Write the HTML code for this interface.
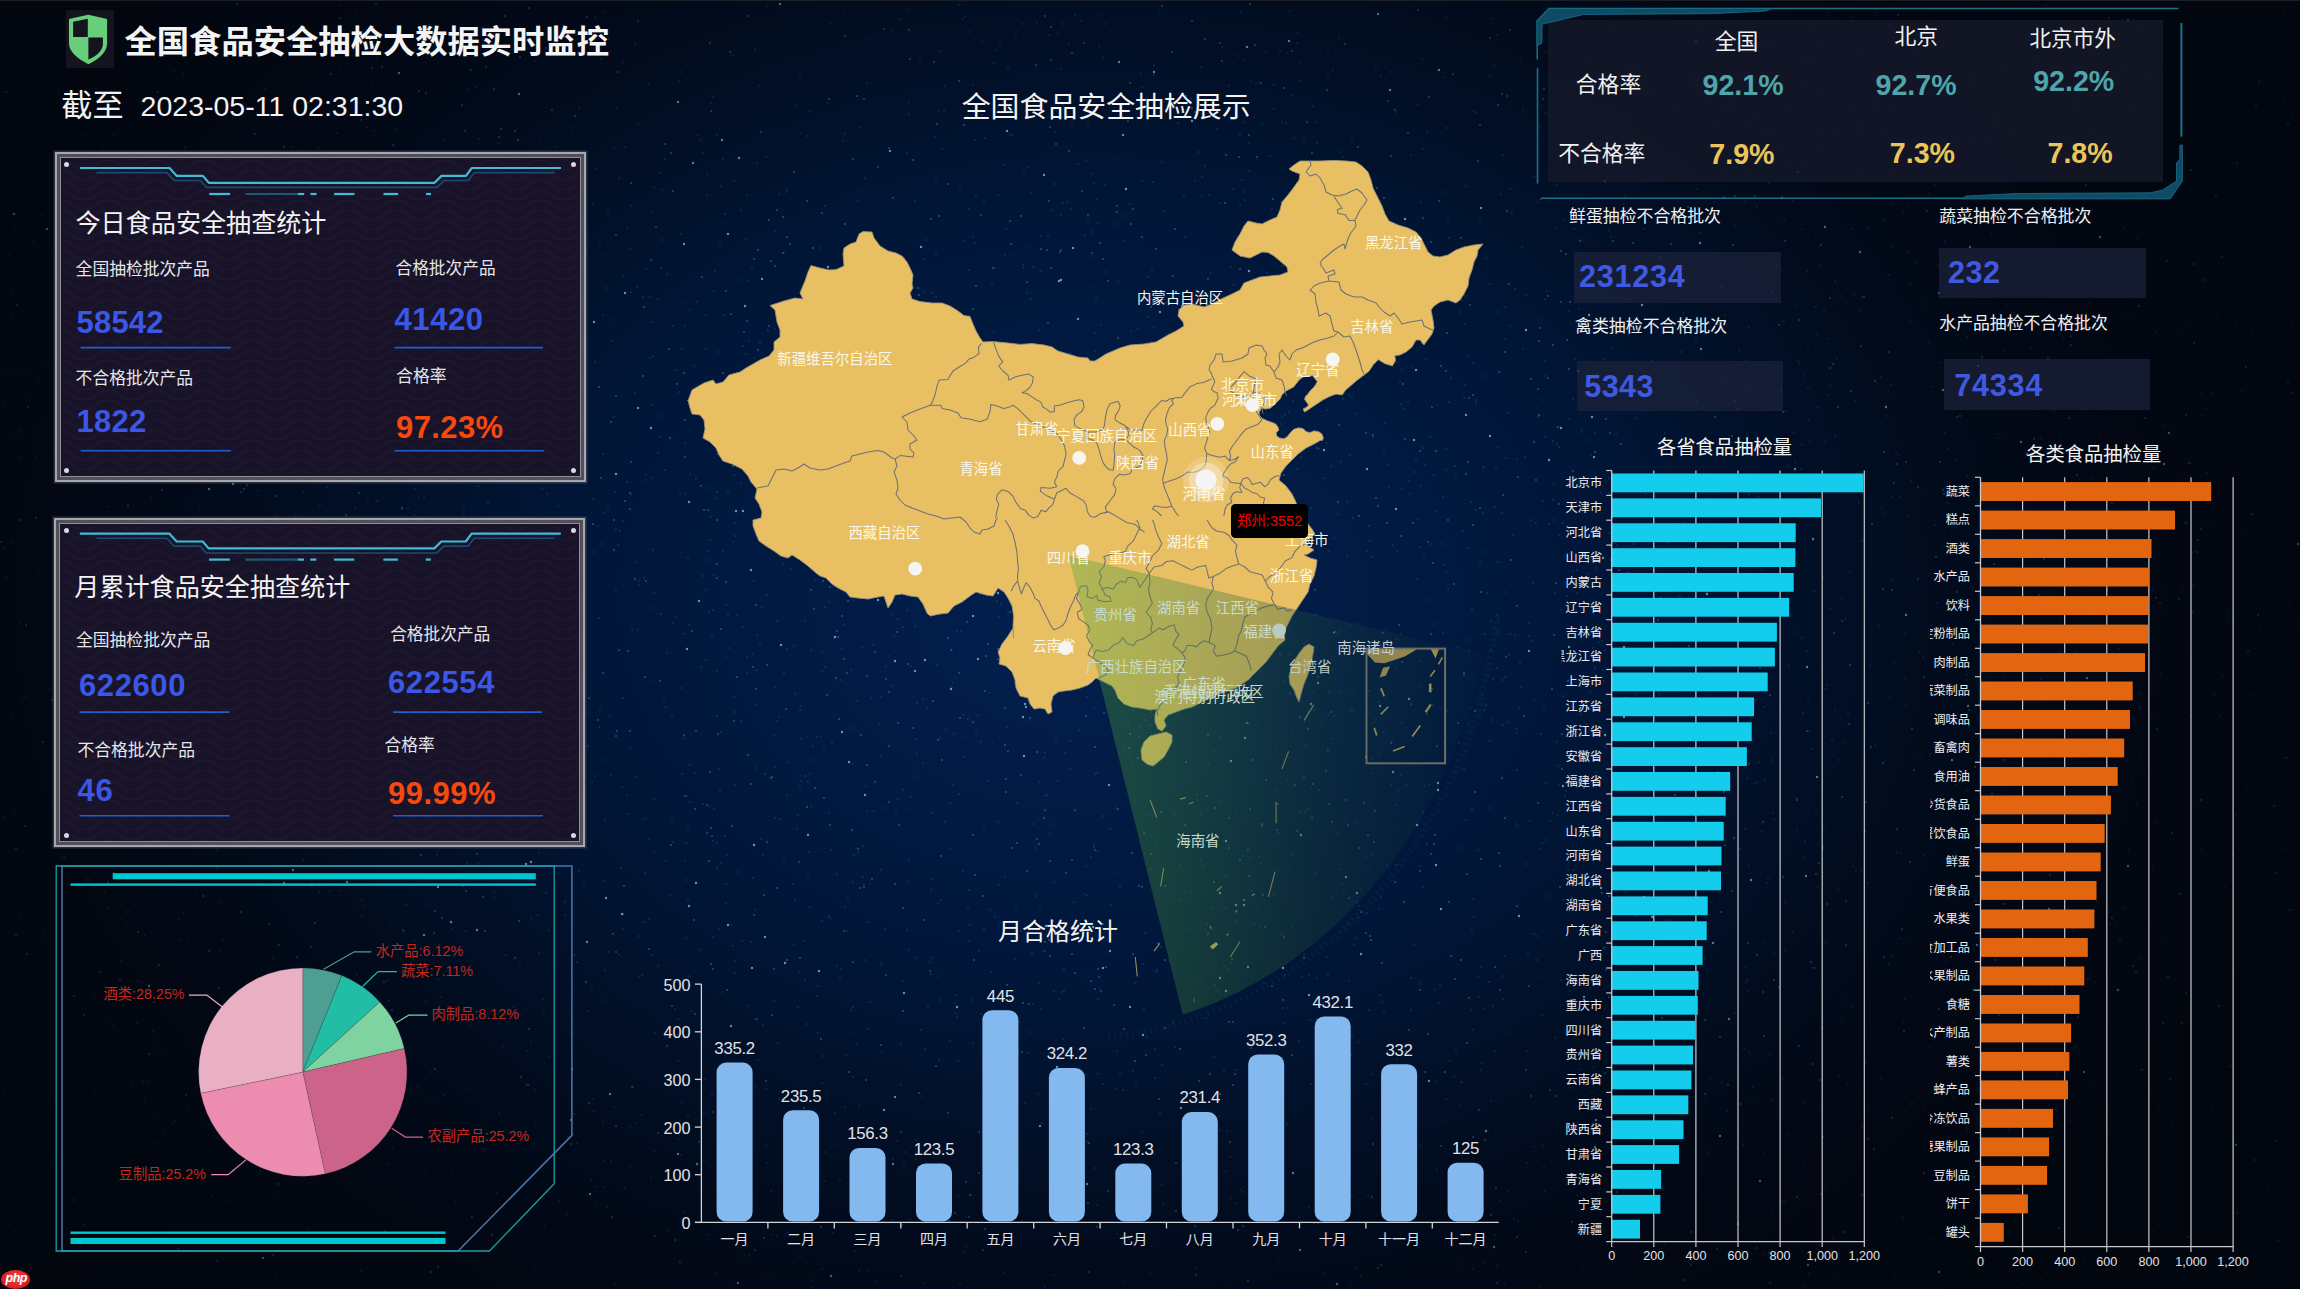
<!DOCTYPE html><html lang="zh-CN"><head><meta charset="utf-8"><title>全国食品安全抽检大数据实时监控</title><style>
html,body{margin:0;padding:0;background:#02060f;}
body{width:2300px;height:1289px;overflow:hidden;position:relative;font-family:"Liberation Sans","Noto Sans CJK SC",sans-serif;}
#bg{position:absolute;left:0;top:0;width:2300px;height:1289px;
 background:
  radial-gradient(ellipse 1250px 950px at 1090px 600px, #022050 0%, #021c46 18%, #01173a 38%, #01112b 58%, #020a1a 78%, #02060f 100%);}
.t{position:absolute;white-space:nowrap;}
svg{position:absolute;left:0;top:0;overflow:visible;}
svg text{font-family:"Liberation Sans","Noto Sans CJK SC",sans-serif;}
.panel{position:absolute;box-sizing:border-box;border:2px solid #a6a6af;background:#505059;box-shadow:0 0 0 1.5px rgba(120,120,130,.35);}
.panel .in{position:absolute;left:3px;top:3px;right:3px;bottom:3px;box-sizing:border-box;border:1.5px solid #8f8f99;background-color:#181329;}
.dot{position:absolute;width:5px;height:5px;border-radius:50%;background:#d8d8de;}
.cbox{position:absolute;background:rgba(28,34,58,.72);}
</style></head><body>
<div id="bg"></div>
<svg width="2300" height="1289" viewBox="0 0 2300 1289">
<path d="M258 522h0M859 192h0M1596 886h0M8 912h0M1300 62h0M118 1080h0M1415 472h0M777 621h0M141 983h0M1534 177h0M121 961h0M1612 348h0M818 1033h0M1461 848h0M1356 938h0M940 362h0M1151 511h0M756 705h0M685 326h0M688 558h0M1206 931h0M2033 970h0M1277 791h0M770 529h0M1768 42h0M1627 299h0M2115 923h0M1315 873h0M194 627h0M1220 324h0M1033 267h0M1421 202h0M1773 1211h0M427 798h0M1647 576h0M822 671h0M553 694h0M2181 480h0M165 173h0M682 1102h0M1045 753h0M466 596h0M427 656h0M603 256h0M916 1159h0M163 384h0M1724 331h0M685 494h0M1204 1126h0M1953 644h0M1300 81h0M1210 1221h0M1602 641h0M1867 228h0M1061 375h0M1258 407h0M333 575h0M1388 465h0M1256 84h0M1240 503h0M377 501h0M998 822h0M1471 1010h0M631 206h0M1343 157h0M579 654h0M846 290h0M2264 420h0M1772 1100h0M1012 517h0M1387 351h0M566 1215h0M1061 567h0M956 995h0M1795 462h0M1688 690h0M1127 449h0M1510 326h0M834 638h0M1227 1131h0M1903 1217h0M1545 361h0M1425 786h0M1045 1287h0M1773 813h0M1333 897h0M1998 434h0M1210 568h0M992 533h0M1166 303h0M1119 637h0M688 1116h0M1569 419h0M442 49h0M1274 895h0M1461 1082h0M1434 624h0M1546 783h0M808 736h0M1014 595h0M300 1239h0M2229 621h0M1062 992h0M662 190h0M1129 1239h0M2163 425h0M1367 551h0M2284 101h0M950 803h0M1350 455h0M1017 551h0M1881 1078h0M565 902h0M1641 492h0M844 625h0M932 813h0M409 382h0M1124 241h0M707 195h0M955 1013h0M690 474h0M1161 947h0M1595 433h0M1056 676h0M1176 401h0M623 62h0M594 1111h0M1554 520h0M145 1099h0M481 885h0M1143 393h0M1596 675h0M1064 497h0M717 716h0M1446 1120h0M816 1098h0M296 515h0M395 309h0M406 640h0M1105 185h0M1332 175h0M1282 266h0M1244 192h0M1005 1029h0M1352 693h0M531 918h0M1193 321h0M1594 1067h0M1677 707h0M265 89h0M1305 722h0M2130 1026h0M499 304h0M1333 670h0M1850 572h0M1031 502h0M1516 824h0M1394 1089h0M119 303h0M905 1152h0M1088 219h0M890 355h0M1993 581h0M963 871h0M1050 834h0M1877 13h0M1260 926h0M2252 333h0M1981 726h0M1065 753h0M1176 845h0M1120 887h0M374 131h0M422 518h0M767 6h0M208 1125h0M1728 710h0M357 798h0M2039 805h0M1962 216h0M824 342h0M1706 1099h0M1380 995h0M1420 547h0M412 468h0M1107 504h0M533 524h0M1106 573h0M1252 546h0M989 693h0M2190 306h0M873 645h0M1967 675h0M573 525h0M475 463h0M1261 864h0M1397 551h0M2123 776h0M1351 710h0M1027 293h0M168 710h0M422 614h0M1103 1084h0M127 160h0M1318 229h0M1110 829h0M2194 806h0M898 619h0M717 492h0M1780 562h0M1025 1103h0M541 319h0M581 442h0M1563 900h0M594 552h0M414 941h0M1130 758h0M1892 109h0M455 1202h0M1004 1273h0M1465 324h0M166 642h0M1418 519h0M1541 734h0M497 1193h0M856 784h0M408 508h0M1347 502h0M1889 964h0M793 884h0M1091 256h0M1540 849h0M1181 318h0M1402 489h0M719 769h0M198 792h0M387 980h0M2029 570h0M620 531h0M717 1273h0M1058 522h0M1573 571h0M1035 462h0M2201 1266h0M1758 491h0M988 781h0M829 813h0M730 461h0M589 712h0M1195 181h0M1224 427h0M213 646h0M542 211h0M1782 1201h0M851 1032h0M1572 1059h0M825 1152h0M1725 816h0M400 265h0M2000 438h0M773 354h0M778 1043h0M1476 403h0M1169 960h0M1299 305h0M2276 568h0M1478 850h0M1379 754h0M1827 685h0M1331 739h0M607 1207h0M1299 1041h0M1010 543h0M1626 1127h0M1094 847h0M1076 480h0M1135 983h0M835 1113h0M2114 272h0M1490 76h0M1292 855h0M2153 869h0M808 476h0M1091 938h0M900 19h0M2001 66h0M2260 81h0M143 1081h0M1814 591h0M2072 760h0M768 1276h0M94 998h0M303 860h0M1098 1074h0M1046 635h0M1456 475h0M222 227h0M221 627h0M1329 692h0M1205 838h0M1498 619h0M303 407h0M948 1244h0M986 459h0M1616 776h0M1258 909h0M1789 1134h0M470 1026h0M1084 894h0M944 111h0M279 446h0M86 135h0M76 1252h0M865 960h0M1029 478h0M1603 122h0M2274 926h0M1338 833h0M757 447h0M1245 200h0M1285 299h0M1815 307h0M1172 705h0M365 906h0M933 379h0M900 585h0M1334 716h0M1566 791h0M1788 567h0M1372 758h0M1492 720h0M1930 1047h0M521 619h0M612 341h0M623 276h0M1039 482h0M1291 351h0M1937 634h0M630 1126h0M1964 1094h0M1534 700h0M756 768h0M860 127h0M1246 669h0M1000 736h0M949 595h0M27 400h0M554 456h0M1091 288h0M1134 420h0M337 1248h0M865 178h0M804 1232h0M73 445h0M1967 1130h0M1431 277h0M1276 1239h0M366 984h0M292 536h0M1341 462h0M1033 627h0M1703 24h0M1191 99h0M1763 1255h0M1152 1246h0M706 660h0M387 813h0M1508 722h0M1809 731h0M1908 252h0M566 346h0M1274 347h0M846 578h0M26 697h0M398 1102h0M1816 813h0M149 1202h0M1843 1000h0M112 1139h0M265 1126h0M1306 904h0M416 795h0M1905 678h0M672 821h0M1956 1035h0M885 929h0M1534 1147h0M1147 815h0M1995 912h0M1241 1190h0M1186 356h0M736 912h0M432 1102h0M1396 1190h0M1894 662h0M680 493h0M252 672h0M121 705h0M1182 459h0M1575 359h0M910 479h0M1311 787h0M1202 196h0M627 228h0M734 697h0M1789 666h0M854 397h0M600 245h0M1299 1217h0M1468 356h0M584 428h0M1427 132h0M806 493h0M20 622h0M2125 387h0M1359 214h0M584 883h0M1429 785h0M801 133h0M982 42h0M1805 1162h0M705 1079h0M1762 570h0M2073 930h0M1005 255h0M609 39h0M616 590h0M109 989h0M2053 198h0M1299 896h0M1512 213h0M432 401h0M960 187h0M1221 802h0M1959 896h0M1317 978h0M1793 932h0M747 657h0M903 627h0M474 736h0M567 218h0M1334 1109h0M59 1101h0M1892 580h0M1644 229h0M178 384h0M476 87h0M821 331h0M933 445h0M1445 1152h0M551 585h0M1156 972h0M278 379h0M925 469h0M243 748h0M897 527h0M2133 781h0M1192 427h0M1566 936h0M99 269h0M1786 411h0M402 509h0M474 364h0M1774 819h0M579 871h0M1197 795h0M397 759h0M387 581h0M1540 126h0M1860 171h0M1256 725h0M1454 1077h0M953 508h0M1253 1098h0M1236 1203h0M660 173h0M829 282h0M2265 1272h0M1581 432h0M1825 442h0M1826 689h0M288 472h0M686 938h0M449 393h0M1260 438h0M1204 630h0M1431 544h0M1807 86h0M1292 926h0M454 395h0M117 1145h0M36 458h0M798 815h0M1145 720h0M1142 181h0M853 1077h0M211 649h0M1305 812h0M181 445h0M665 470h0M1967 337h0M1648 579h0M893 1159h0M259 260h0M1016 907h0M1655 728h0M1411 155h0M959 931h0M1372 265h0M113 1026h0M1174 531h0M741 448h0M331 349h0M341 69h0M1141 74h0M722 1101h0M927 708h0M811 806h0M734 475h0M167 356h0M2156 332h0M1546 840h0M1745 556h0M1094 845h0M1172 491h0M1596 328h0M1033 1004h0M1980 226h0M462 787h0M1918 51h0M851 728h0M1565 796h0M938 903h0M1785 1202h0M617 108h0M1440 771h0M469 1088h0M954 734h0M661 416h0M566 819h0M99 753h0M874 811h0M1117 872h0M721 186h0M98 375h0M1081 1140h0M431 809h0M291 640h0M1189 706h0M1426 359h0M1687 299h0M1609 533h0M653 550h0M489 218h0M619 954h0M973 85h0M467 89h0M600 710h0M915 326h0M2004 351h0M701 667h0M1220 203h0M1042 939h0M915 626h0M636 562h0M1033 432h0M577 1143h0M1672 702h0M1802 229h0M939 495h0M1130 204h0M1745 829h0M886 330h0M1497 668h0M127 453h0M714 411h0M942 149h0M1606 694h0M1054 824h0M1129 723h0M1417 579h0M922 1096h0M1203 866h0M1612 1011h0M675 1009h0M1223 600h0M1028 1053h0M546 893h0M1315 431h0M1206 1018h0M654 593h0M1368 305h0M1571 81h0M842 649h0M1251 82h0M1410 494h0M986 1065h0M1366 858h0M1994 1228h0M1716 809h0M6 577h0M1838 890h0M1217 110h0M1042 1123h0M2061 608h0M1563 696h0M1621 848h0M1024 392h0M1047 795h0M1197 1268h0M602 544h0M431 447h0M1319 449h0M134 1246h0M1072 527h0M1070 769h0M1458 1264h0M1147 541h0M625 1188h0M1596 125h0M308 1010h0M1259 82h0M1767 883h0M1184 196h0M1758 782h0M1541 106h0M1956 785h0M545 450h0M1420 661h0M682 774h0M153 1031h0M1023 268h0M2281 26h0M1169 439h0M1277 303h0M709 1235h0M2041 497h0M603 1122h0M904 258h0M1506 458h0M1604 681h0M639 936h0M1954 1097h0M852 260h0M1538 417h0M863 877h0M1870 666h0M431 345h0M731 925h0M1030 1032h0M380 1049h0M1570 991h0M1970 404h0M872 576h0M1868 1107h0M574 1114h0M780 819h0M351 807h0M1167 433h0M1533 1280h0M1824 830h0M709 612h0M867 83h0M1328 75h0M1023 24h0M1692 711h0M1250 858h0M939 1060h0M1081 21h0M610 716h0M1352 397h0M1139 559h0M595 17h0M1267 273h0M1474 917h0M32 637h0M217 1022h0M1591 455h0M1133 375h0M1353 710h0M2278 472h0M676 370h0M1451 378h0M2020 1250h0M1868 883h0M277 515h0M1508 1191h0M1419 244h0M1682 286h0M2084 1261h0M1015 959h0M1473 1030h0M531 1042h0M253 417h0M1421 486h0M2286 849h0M961 1h0M636 1123h0M940 738h0M564 192h0M1690 728h0M173 1123h0M854 252h0M871 698h0M1212 585h0M1896 453h0M1589 440h0M720 791h0M2096 327h0M868 1029h0M1905 634h0M1106 416h0M1701 582h0M1817 134h0M1311 508h0M1041 508h0M557 147h0M900 598h0M1099 16h0M1153 616h0M678 1061h0M1469 651h0M1254 924h0M1079 560h0M1175 1047h0M367 72h0M538 785h0M1929 342h0M2085 796h0M67 785h0M879 724h0M520 966h0M1770 1054h0M1437 405h0M833 1233h0M854 600h0M714 291h0M1263 362h0M810 774h0M1802 445h0M639 585h0M2005 677h0M299 151h0M536 1123h0M853 882h0M1140 727h0M649 839h0M472 865h0M42 114h0M864 413h0M1206 635h0M1852 107h0M97 302h0M956 525h0M2026 1022h0M316 268h0M123 483h0M716 498h0M1884 220h0M801 1162h0M330 615h0M1219 1116h0M1234 285h0M411 427h0M1920 755h0M2188 463h0M813 746h0M870 884h0M1667 920h0M1839 760h0M1700 409h0M21 457h0M1573 399h0M1022 1221h0M1595 1005h0M252 168h0M808 875h0M1550 821h0M1448 589h0M2095 982h0M2099 450h0M168 821h0M1289 412h0M685 861h0M380 528h0M1856 871h0M1250 1045h0M183 792h0M1204 846h0M253 596h0M2072 58h0M225 447h0M397 335h0M2030 1066h0M318 1085h0M1489 982h0M715 271h0M1277 514h0M1515 635h0M1949 897h0M1931 1239h0M538 915h0M953 682h0M1678 623h0M1996 1085h0M1316 294h0M638 124h0M1632 684h0M1059 999h0M1785 164h0M1008 614h0M139 591h0M1058 34h0M1368 226h0M1526 295h0M1911 481h0M614 417h0M703 576h0M1749 866h0M583 415h0M1919 652h0M539 853h0M592 782h0M460 207h0M1616 152h0M1785 902h0M2230 1245h0M1360 568h0M681 72h0M1339 692h0M1618 116h0M983 1034h0M1599 642h0M573 1134h0M597 1205h0M870 1002h0M1875 745h0M1753 1087h0M1005 877h0M2242 752h0M1658 905h0M735 973h0M1939 747h0M1154 503h0M1925 304h0M743 627h0M690 802h0M1238 370h0M1463 1236h0M1379 702h0M13 293h0M1165 455h0M1784 321h0M1313 106h0M1852 1006h0M618 545h0M1085 235h0M232 670h0M817 358h0M365 757h0M794 945h0M320 505h0M2140 757h0M1476 510h0M1665 433h0M1777 148h0M999 617h0M1582 240h0M1472 930h0M1616 434h0M615 1284h0M802 1224h0M1648 544h0M440 271h0M549 930h0M873 569h0M639 581h0M1301 457h0M2096 1088h0M1591 59h0M1613 708h0M381 1071h0M817 996h0M1301 517h0M2137 805h0M1063 203h0M1406 728h0M190 504h0M604 1161h0M445 426h0M1480 715h0M1788 466h0M1559 146h0M1916 262h0M1510 189h0M968 719h0M1357 902h0M984 202h0M755 910h0M159 373h0M1447 711h0M1268 435h0M819 503h0M818 986h0M2226 170h0M1807 271h0M1496 68h0M2208 1147h0M89 780h0M1365 784h0M1261 671h0M1748 991h0M53 801h0M368 498h0M588 1011h0M1505 307h0M845 548h0M1854 294h0M1639 904h0M343 44h0M912 504h0M1423 887h0M393 169h0M956 678h0M822 1083h0M344 1044h0M1230 513h0M1367 712h0M2044 268h0M8 373h0M1498 447h0M775 498h0M831 850h0M5 1284h0M235 596h0M362 916h0M1179 547h0M1101 490h0M963 736h0M1292 95h0M1744 1049h0M241 800h0M864 885h0M1727 1111h0M137 806h0M1901 853h0M1169 475h0M1532 641h0M558 506h0M1304 141h0M1582 430h0M2090 1130h0M1917 432h0M1556 228h0M2226 167h0M773 1235h0M805 980h0M635 393h0M1259 857h0M755 49h0M2090 303h0M957 631h0M1837 1275h0M796 106h0M1443 633h0M1974 944h0M547 494h0M258 491h0M1392 742h0M1291 322h0M1481 967h0M174 71h0M1758 497h0M424 497h0M942 51h0M1148 627h0M1910 284h0M1391 72h0M1045 951h0M1282 935h0M1746 723h0M573 1033h0M669 1231h0M2236 815h0M542 489h0M2172 1121h0M2141 695h0M828 103h0M768 330h0M1744 64h0M1609 230h0M2263 1230h0M1540 39h0M1201 474h0M1655 756h0M643 297h0M148 289h0M1264 541h0M324 261h0M1300 431h0M1818 407h0M751 942h0M730 1283h0M2101 435h0M1228 469h0M973 237h0M1569 911h0M1998 120h0M1162 355h0M243 645h0M2048 266h0M1478 977h0M2149 1093h0M72 564h0M329 710h0M725 1174h0M1616 396h0M917 316h0M2010 1221h0M361 1271h0M1319 1100h0M1181 900h0M1244 1192h0M317 585h0M1623 266h0M1185 892h0M1647 258h0M1038 481h0M1058 781h0M990 995h0M1546 113h0M219 902h0M2109 912h0M760 428h0M1359 906h0M661 614h0M998 195h0M462 665h0M1545 1191h0M392 923h0M357 975h0M1574 499h0M1948 525h0M1095 774h0M376 1114h0M643 819h0M1631 802h0M439 945h0M1663 890h0M1992 856h0M721 387h0M1162 162h0M1692 299h0M651 608h0M1231 1198h0M2144 670h0M1569 1009h0M1208 100h0M1402 370h0M372 83h0M632 629h0M2228 776h0M916 1140h0M2285 447h0M723 224h0M1094 491h0M2085 666h0M2278 449h0M661 268h0M1017 623h0M1738 914h0M1280 628h0M1443 497h0M1450 1061h0M733 946h0M1641 377h0M1962 373h0M318 811h0M919 588h0M795 694h0M1828 395h0M337 133h0M713 841h0M982 115h0M2207 503h0M2201 415h0M969 209h0M1350 626h0M515 846h0M95 1093h0M1302 977h0M829 916h0M788 359h0M1075 15h0M2069 681h0M840 978h0M1617 823h0M247 592h0M804 941h0M2243 391h0M1226 876h0M1135 1205h0M438 736h0M915 201h0M233 209h0M1633 544h0M1464 1218h0M972 1000h0M1092 174h0M401 105h0M1412 368h0M1190 1155h0M60 856h0M597 1187h0M1342 1122h0M1369 1010h0M160 1237h0M1352 1036h0M1735 226h0M1103 365h0M2061 621h0M1580 827h0M1376 276h0M1888 392h0M1223 408h0M1765 443h0M969 270h0M278 690h0M2023 1284h0M1746 361h0M1398 790h0M670 895h0M2150 673h0M1945 402h0M731 463h0M673 842h0M4 405h0M2155 823h0M1636 694h0M1593 648h0M313 413h0M1252 891h0M2106 1160h0M51 1167h0M1188 648h0M484 1150h0M2292 113h0M1876 97h0M1732 728h0M1892 956h0M2201 394h0M1837 359h0M2234 619h0M755 1086h0M682 349h0M950 849h0M46 472h0M1197 116h0M2121 69h0M253 586h0M1516 729h0M2064 922h0M276 469h0M1691 938h0M2079 808h0M822 1269h0M1443 192h0M1087 697h0M340 25h0M717 454h0M786 192h0M945 86h0M140 204h0M1447 128h0M1192 351h0M1264 571h0M1484 467h0M1547 291h0M215 1073h0M1460 1106h0M683 304h0M1498 632h0M298 230h0M1185 307h0M1443 77h0M481 376h0M614 148h0M945 442h0M610 320h0M229 761h0M2032 925h0M1835 281h0M1088 123h0M2149 77h0M1155 1078h0M1248 378h0M438 979h0M1041 236h0M344 673h0M944 465h0M1803 713h0M1514 1219h0M697 1280h0M2009 1129h0M1496 1131h0M400 154h0M937 665h0M1137 1187h0M299 211h0M735 712h0M650 358h0M1933 387h0M652 405h0M107 183h0M970 925h0M868 425h0M717 843h0M2002 900h0M784 861h0M1490 741h0M2284 15h0M768 503h0M857 701h0M1034 498h0M385 637h0M604 881h0M340 627h0M1958 335h0M4 1092h0M1401 775h0M245 804h0M561 375h0M1611 1144h0M1124 478h0M1199 589h0M1096 298h0M272 1019h0M217 850h0M1190 930h0M2061 390h0M660 437h0M1539 1287h0M1366 309h0M424 385h0M449 537h0M179 940h0M1201 861h0M1414 1199h0M133 1083h0M1887 133h0M441 997h0M343 445h0M1233 189h0M1056 739h0M1739 152h0M1955 852h0M1165 607h0M1752 227h0M1724 791h0M2064 855h0M1036 848h0M1277 354h0M411 896h0M1947 714h0M1990 690h0M1358 624h0M1007 727h0M721 732h0M1079 430h0M1660 1079h0M979 951h0M1154 1154h0M1154 493h0M1154 65h0M105 893h0M1838 296h0M642 1115h0M1521 687h0M359 37h0M177 33h0M881 756h0M907 610h0M813 760h0M409 643h0M1903 1022h0M1959 138h0M1470 708h0M586 254h0M1332 340h0M1244 122h0M251 1163h0M151 498h0M1577 570h0M2006 306h0M2001 513h0M1218 991h0M1236 1070h0M315 248h0M1480 219h0M1322 1065h0M2153 1231h0M1935 525h0M1937 776h0M42 141h0M1847 1085h0M1239 832h0M837 874h0M2167 1142h0M1043 440h0M2246 211h0M154 1118h0M1029 720h0M1037 380h0M445 1236h0M495 414h0M727 855h0M679 81h0M697 302h0M1715 320h0M877 1281h0M1153 552h0M2053 987h0M1021 931h0M385 116h0M1074 580h0M1561 980h0M282 592h0M560 452h0M652 212h0M805 621h0M1545 437h0M1198 680h0M352 263h0M108 507h0M2154 1074h0M807 136h0M1282 417h0M1297 469h0M1605 650h0M1596 772h0M1389 487h0M1440 985h0M1178 123h0M1239 333h0M1095 333h0M1606 13h0M1087 1134h0M885 808h0M1079 1235h0M2280 462h0M1586 115h0M777 721h0M222 365h0M2070 523h0M1670 1078h0M735 523h0M717 671h0M1974 950h0M820 371h0M1192 621h0M2124 228h0M850 443h0M1907 516h0M201 808h0M420 197h0M627 482h0M639 977h0M1802 61h0M1779 610h0M1807 651h0M104 345h0M985 138h0M1308 809h0M1503 999h0M858 852h0M300 380h0M2277 354h0M1490 284h0M1595 668h0M2173 1092h0M1264 901h0M1859 311h0M2208 403h0M1411 978h0M2035 550h0M2071 143h0M690 407h0M788 762h0M1678 566h0M1604 359h0M2049 890h0M506 684h0M1173 1022h0M1520 62h0M749 1255h0M2212 393h0M67 877h0M1798 632h0M325 1139h0M918 490h0M2041 679h0M1226 1280h0M387 273h0M254 1040h0M1899 455h0M859 1072h0M1039 330h0M1236 813h0M686 843h0M2223 676h0M891 304h0M540 831h0M539 953h0M1196 488h0M958 1196h0M1152 270h0M535 1090h0M1420 984h0M763 474h0M1013 256h0M746 239h0M1519 708h0M1050 389h0M1142 661h0M151 159h0M710 806h0M859 1271h0M238 828h0M1530 821h0M800 1257h0M1244 60h0M857 457h0M980 539h0M1577 593h0M1016 38h0M1466 752h0M902 402h0M1133 710h0M1341 869h0M1455 466h0M896 566h0M774 735h0M1246 766h0M367 772h0M886 666h0M2091 797h0M2268 1191h0M1319 790h0M598 526h0M1544 1167h0M1784 220h0M1740 761h0M1574 870h0M876 380h0M1739 739h0M1577 1195h0M1515 289h0M652 478h0M815 580h0M115 209h0M920 58h0M303 696h0M1771 565h0M1624 204h0M1446 719h0M577 423h0M1031 636h0M976 196h0M1224 1071h0M2275 730h0M1880 1035h0M1281 424h0M1154 75h0M1866 1032h0M1353 518h0M82 306h0M1474 111h0M1160 697h0M871 542h0M1231 963h0M892 1220h0M1837 133h0M1496 468h0M1362 264h0M960 547h0M1600 1189h0M1065 573h0M1992 843h0M1755 783h0M1823 577h0M1508 413h0M1483 513h0M653 680h0M9 254h0M823 269h0M530 695h0M1214 309h0M1367 205h0M1473 899h0M94 1154h0M197 632h0M685 443h0M956 351h0M1044 951h0M1457 1202h0M1897 852h0M1528 954h0M409 685h0M764 535h0M995 917h0M1220 1130h0M1136 1083h0M1543 501h0M917 703h0M1132 1169h0M1559 535h0M340 1015h0M1491 650h0M2198 1060h0M599 727h0M679 392h0M845 1107h0M2269 997h0M1138 390h0M1071 209h0M1588 574h0M278 619h0M81 300h0M1557 742h0M1562 160h0M1503 725h0M888 429h0M901 1085h0M1054 991h0M77 25h0M711 103h0M437 855h0M859 1106h0M2238 602h0M784 252h0M22 656h0M606 104h0M992 511h0M611 775h0M515 359h0M680 991h0M1016 547h0M1142 87h0M868 1270h0M1099 46h0M837 966h0M1131 762h0M1939 253h0M1039 983h0M1612 278h0M1831 1252h0M760 343h0M1759 380h0M631 292h0M777 1236h0M406 656h0M1574 581h0M1721 89h0M1338 514h0M1202 177h0M579 108h0M748 1006h0M1993 520h0M686 880h0M939 112h0M234 1172h0M800 75h0M276 1275h0M980 458h0M126 926h0M936 297h0M903 981h0M882 963h0M1640 1141h0M1139 737h0M1160 397h0M637 287h0M704 1161h0M966 1246h0M720 245h0M977 96h0M713 937h0M52 251h0M1016 457h0M717 135h0M1023 265h0M2152 713h0M1808 346h0M1529 623h0M1449 238h0M677 1180h0M1000 458h0M844 513h0M1510 634h0M916 739h0M1036 896h0M1582 147h0M435 716h0M775 767h0M775 818h0M1307 64h0M347 50h0M21 915h0M1304 644h0M393 268h0M1087 1142h0M1645 649h0M1318 358h0M1274 85h0M1079 684h0M1818 887h0M2215 695h0M470 388h0M1200 979h0M1472 809h0M1215 985h0M418 1086h0M931 890h0M1345 227h0M40 991h0M1156 415h0M1063 928h0M1341 152h0M1822 991h0M1905 999h0M1408 402h0M1279 833h0M505 791h0M2216 723h0M376 331h0M1810 442h0M1186 531h0M754 581h0M1555 593h0M883 434h0M1416 460h0M1308 677h0M1051 929h0M965 522h0M1557 444h0M1561 610h0M2123 908h0M1743 1145h0M667 653h0M1707 970h0M2220 716h0M1352 141h0M496 272h0M575 955h0M45 934h0M1651 165h0M11 715h0M1436 511h0M209 782h0M173 277h0M862 461h0M1582 1267h0M167 251h0M280 309h0M108 201h0M1672 649h0M997 1123h0M1229 419h0M1003 558h0M1423 149h0M821 848h0M911 797h0M712 636h0M1077 1166h0M1574 229h0M796 482h0M944 430h0M809 308h0M2155 1211h0M799 972h0M1396 112h0M1867 472h0M1592 560h0M1341 630h0M1061 215h0M1220 737h0M1191 464h0M845 566h0M395 223h0M1367 913h0M404 714h0M416 296h0M917 776h0M214 448h0M1957 752h0M1705 958h0M1138 356h0M319 892h0M427 904h0M2225 887h0M1853 866h0M1823 1022h0M330 814h0M200 509h0M1808 388h0M505 226h0M924 608h0M767 595h0M583 459h0M1285 975h0M1482 1063h0M1077 494h0M2201 850h0M1639 903h0M357 13h0M1475 1247h0M1735 1013h0M1808 487h0M718 352h0M936 254h0M817 289h0M306 303h0M1064 991h0M741 721h0M1317 143h0M593 499h0M1446 470h0M544 1064h0M1479 997h0M393 1147h0M779 717h0M747 195h0M1422 59h0M707 174h0M779 1099h0M1032 953h0M1355 1268h0M1570 106h0M946 730h0M233 746h0M1381 897h0M1753 113h0M1159 864h0M894 636h0M1391 234h0M1683 313h0M1717 872h0M1344 893h0M183 913h0M1071 592h0M2208 526h0M739 1081h0M645 873h0M2069 163h0M756 670h0M1203 336h0M5 925h0M788 463h0M260 624h0M724 315h0M501 583h0M689 625h0M646 269h0M1901 632h0M646 818h0M1793 484h0M1710 888h0M1468 548h0M1446 1099h0M1553 813h0M1397 639h0M1600 160h0M308 166h0M1086 161h0M38 382h0M1364 335h0M855 1251h0M2032 365h0M921 1030h0M2288 431h0M642 975h0M2048 939h0M1891 385h0M1903 211h0M1211 273h0M370 703h0M630 748h0M667 274h0M625 147h0M1716 124h0M2289 602h0M909 808h0M1226 908h0M1571 1168h0M605 12h0M1997 640h0M2076 1047h0M1929 194h0M1222 570h0M1097 773h0M584 193h0M645 480h0M1091 934h0M1939 363h0M1222 47h0M1118 282h0M302 547h0M2217 315h0M830 918h0M845 428h0M823 1056h0M1664 832h0M2277 939h0M441 413h0M1529 636h0M16 437h0M868 922h0M1570 1088h0M1444 565h0M1558 766h0M753 654h0M1859 503h0M535 444h0M1219 657h0M101 101h0M1063 1039h0M334 591h0M2212 1109h0M1094 183h0M1298 33h0M1588 932h0M1803 1103h0M535 622h0M1848 504h0M2193 553h0M819 568h0M1895 1277h0M2187 648h0M1615 1209h0M1041 936h0M754 358h0M1665 664h0M704 1113h0M444 1095h0M717 868h0M595 362h0M339 112h0M635 44h0M784 144h0M1411 1010h0M783 550h0M1559 447h0M688 827h0M130 424h0M2236 752h0M1138 329h0M1543 1146h0M845 134h0M203 531h0M1348 924h0M404 932h0M1427 600h0M917 754h0M389 539h0M2258 634h0M854 855h0M118 583h0M461 661h0M997 1056h0M188 715h0M927 614h0M1160 14h0M1954 1022h0M846 394h0M194 714h0M1527 1051h0M142 104h0M853 764h0M939 52h0M2247 790h0M545 193h0M1309 1207h0M1249 143h0M1991 234h0M746 354h0M748 1246h0M1112 358h0M142 787h0M1879 626h0M1749 495h0M1892 246h0M1288 870h0M471 353h0M1762 712h0M378 750h0M1342 884h0M417 442h0M2040 1120h0M1618 1264h0M99 1110h0M2137 238h0M1892 497h0M1187 776h0M188 165h0M254 171h0M787 1233h0M1853 17h0M97 477h0M1677 296h0M1418 105h0M1533 583h0M881 965h0M2041 438h0M1816 234h0M414 515h0M1523 110h0M1395 688h0M2266 844h0M1793 201h0M579 410h0M896 581h0M528 617h0M593 1099h0M1956 460h0M892 614h0M1506 592h0M703 804h0M1111 905h0M1830 609h0M1712 880h0M786 391h0M959 794h0M1164 211h0M327 487h0M1180 519h0M2174 946h0M1324 478h0M1315 615h0M1091 1109h0M1370 541h0M1220 465h0M1505 677h0M1309 975h0M2165 217h0M1819 1109h0M1587 724h0M801 343h0M559 1201h0M817 487h0M523 832h0M1474 56h0M153 440h0M142 982h0M1105 24h0M1762 831h0M1435 990h0M1053 1049h0M662 240h0M205 659h0M812 1204h0M614 1107h0M623 698h0M881 697h0M1058 99h0M303 492h0M149 1081h0M57 587h0M1288 1008h0M287 645h0M1721 882h0M1012 135h0M1425 465h0M1409 481h0M514 1007h0M582 458h0M1517 733h0M930 962h0M412 297h0M924 259h0M416 385h0M1650 1022h0M1850 1286h0M700 950h0M706 349h0M1964 971h0M784 673h0M559 537h0M37 1266h0M1593 612h0M197 45h0M122 536h0M1300 812h0M887 309h0M944 483h0M543 999h0M1381 76h0M844 399h0M932 958h0M650 297h0M980 594h0M1739 880h0M1783 1078h0M1491 621h0M406 342h0M1842 1018h0M1485 634h0M1938 952h0M1948 503h0M1241 235h0M506 955h0M1579 128h0M2009 135h0M1493 679h0M1945 242h0M1006 229h0M1785 108h0M146 194h0M1066 1178h0M1889 275h0M133 535h0M960 0h0M137 1235h0M1647 910h0M2112 1275h0M2269 957h0M1054 607h0M1458 647h0M1162 1065h0M1339 38h0M1553 441h0M815 300h0M221 748h0M653 356h0M357 642h0M1157 970h0M1235 604h0M255 194h0M994 63h0M1527 1163h0M1030 691h0M1609 28h0M1471 502h0M815 1131h0M524 844h0M544 1014h0M628 814h0M608 509h0M429 703h0M1125 1282h0M1145 853h0M82 563h0M856 553h0M63 466h0M1900 938h0M630 249h0M1200 609h0M1125 748h0M2110 521h0M2210 472h0M1048 236h0M1091 857h0M743 346h0M596 169h0M1343 399h0M2107 514h0M1517 459h0M476 228h0M633 1087h0M789 344h0M741 280h0M1185 687h0M2152 688h0M196 891h0M1437 1170h0M187 573h0M2213 918h0M825 1181h0M735 961h0M1472 609h0M2142 1178h0M1302 624h0M666 861h0M1264 441h0M277 718h0M794 646h0M1385 423h0M1486 705h0M1033 604h0M1208 1032h0M658 453h0M910 1219h0M1774 954h0M731 55h0M2286 983h0M748 281h0M994 332h0M1724 675h0M2282 640h0M1240 441h0M1328 1125h0M941 381h0M1338 633h0M1946 962h0M1334 538h0M1356 321h0M1997 693h0M909 102h0M2078 110h0M2053 739h0M520 461h0M1729 101h0M2048 237h0M987 1171h0M603 454h0M1379 909h0M1361 1276h0M846 1055h0M649 919h0M1714 203h0M2104 82h0M1538 202h0M759 86h0M77 1111h0M680 552h0M2291 646h0M1970 80h0M314 451h0M2132 111h0M138 536h0M1848 713h0M1227 548h0M48 365h0M545 803h0M1384 451h0M932 293h0M1611 237h0M467 399h0M654 1151h0M1095 1168h0M1459 743h0M1327 957h0M369 723h0M819 559h0M2090 897h0M1935 185h0M113 276h0M22 699h0M1016 496h0M953 785h0M2253 794h0M1147 420h0M1591 887h0M936 181h0M1285 415h0M644 922h0M1537 960h0M85 188h0M2059 651h0M2116 669h0M1483 376h0M1592 1092h0M1290 655h0M967 116h0M1328 975h0M2025 1114h0M960 1284h0M2115 765h0M559 823h0M1616 891h0M821 736h0M1292 731h0M722 992h0M1350 659h0M1557 185h0M1304 955h0M503 1046h0M813 1280h0M694 366h0M1039 109h0M2193 585h0M1249 452h0M1796 798h0M461 699h0M1100 988h0M1297 251h0M1945 433h0M1930 754h0M2062 757h0M779 554h0M2054 411h0M38 574h0M497 773h0M981 742h0M1253 1160h0M2142 268h0M2152 272h0M646 475h0M534 1266h0M1411 1112h0M1331 466h0M688 900h0M881 870h0M1495 507h0M254 988h0M1746 385h0M873 361h0M305 808h0M1861 49h0M1483 468h0M1730 709h0M766 157h0M330 114h0M1188 331h0M1366 1084h0M1602 731h0M1866 1063h0M901 1044h0M723 551h0M931 974h0M672 716h0M1201 603h0M387 1164h0M1164 564h0M2026 677h0M1828 13h0M1229 86h0M478 863h0M1651 255h0M1255 487h0M1103 58h0M1817 334h0M975 243h0M1205 554h0M1399 291h0M455 662h0M1544 28h0M1400 382h0M1982 360h0M1945 240h0M1287 1124h0M1759 762h0M1542 1015h0M567 1214h0M237 775h0M695 773h0M494 898h0M571 441h0M369 374h0M2047 1273h0M2047 596h0M1964 521h0M1261 581h0M1835 436h0M1434 475h0M1160 1113h0M1392 664h0M1166 575h0M1384 1012h0M1462 300h0M2146 261h0M711 517h0M1545 299h0M222 994h0M858 201h0M391 830h0M278 259h0M291 767h0M733 542h0M1920 494h0M1539 416h0M550 699h0M812 1287h0M1231 267h0M1555 1038h0M1329 551h0M1545 376h0M1195 546h0M678 1019h0M1052 463h0M1094 708h0M807 430h0M1790 529h0M1397 362h0M1263 373h0M1730 442h0M684 738h0M916 421h0M925 1049h0M654 852h0M1262 124h0M627 795h0M1520 663h0M1590 692h0M581 759h0M582 45h0M2093 478h0M57 1172h0M1841 296h0M69 1036h0M2034 1187h0M1376 720h0M1288 591h0M1131 331h0M1270 156h0M1120 1074h0M1210 574h0M990 910h0M1670 598h0M4 548h0M27 145h0M658 966h0M425 619h0M1329 244h0M292 206h0M146 437h0M572 128h0M478 486h0M1952 531h0M1462 1082h0M790 541h0M372 976h0M1195 545h0M721 863h0M1821 265h0M611 1161h0M1306 745h0M1106 272h0M1096 534h0M334 311h0M941 900h0M1000 43h0M1671 851h0M185 209h0M1045 796h0M1476 400h0M1488 192h0M1822 45h0M1095 508h0M2240 390h0M1596 1123h0M1597 198h0M825 206h0M1795 306h0M367 326h0M1200 487h0M1937 603h0M916 958h0M2190 759h0M840 1180h0M851 1177h0M431 1072h0M800 776h0M843 141h0M713 97h0M904 1162h0M843 587h0M1070 353h0M128 507h0M714 575h0M527 1051h0M936 525h0M1283 1008h0M2095 843h0M843 10h0M402 256h0M766 1089h0M1074 118h0M1509 655h0M1382 314h0M230 1046h0M1500 1201h0M1207 924h0M160 1054h0M1497 615h0M892 30h0M1626 892h0M822 921h0M1166 543h0M805 776h0M2207 473h0M42 1005h0M1144 618h0M2081 261h0M2095 446h0M1493 1006h0M2077 652h0M1485 552h0M969 890h0M701 1156h0M1798 361h0M1349 395h0M1217 129h0M1054 1275h0M1349 981h0M1480 562h0M726 656h0M975 140h0M1449 402h0M825 457h0M707 488h0M797 1220h0M807 1024h0M98 552h0M1274 1238h0M1671 854h0M535 61h0M273 958h0M1632 536h0M747 673h0M767 1163h0M487 582h0M1158 548h0M1862 297h0M926 240h0M1356 414h0M112 428h0M1194 912h0M758 1060h0M762 607h0M312 730h0M1835 710h0M1427 844h0M644 578h0M521 314h0M1039 782h0M1736 586h0M964 757h0M782 370h0M1748 88h0M2113 285h0M622 787h0M1513 535h0M1559 785h0M445 569h0M853 1007h0M1382 1002h0M2054 750h0M1284 682h0M163 1130h0M867 811h0M1392 832h0M2134 296h0M463 669h0M2099 540h0M608 952h0M362 900h0M1722 1082h0M1150 869h0M234 823h0M1280 315h0M1170 539h0M395 97h0M1391 785h0M1464 769h0M1214 751h0M1055 184h0M2065 507h0M1522 247h0M2280 1260h0M969 32h0M728 429h0M1031 299h0M918 1167h0M378 1130h0M1712 1149h0M954 394h0M379 33h0M217 452h0M373 576h0M1833 1239h0M1401 634h0M431 280h0M1747 778h0M1681 352h0M330 891h0M144 1275h0M1603 670h0M2053 494h0M1344 1190h0M717 1204h0M684 796h0M774 1001h0M486 341h0M1028 167h0M1297 43h0M418 640h0M2078 696h0M1585 363h0M2088 1058h0M1370 712h0M336 605h0M1609 478h0M1203 111h0M45 163h0M1502 513h0M1803 1287h0M1605 1009h0M969 941h0M414 966h0M545 760h0M1468 724h0M681 688h0M1824 311h0M340 5h0M1422 343h0M1284 1023h0M1697 189h0M1290 11h0M95 202h0M621 868h0M735 536h0M1628 765h0M416 721h0M1382 307h0M684 634h0M131 707h0M1369 691h0M417 828h0M2159 1106h0M408 1125h0M1420 866h0M1358 1042h0M229 1201h0M1326 1173h0M1037 360h0M1271 374h0M690 310h0M2025 573h0M137 1023h0M897 1141h0M416 187h0M1951 493h0M867 40h0M775 329h0M1534 934h0M1209 765h0M673 326h0M1728 111h0M458 800h0M1162 1185h0M714 809h0M1667 464h0M994 268h0M958 1061h0M1466 186h0M520 873h0M1848 360h0M2142 388h0M965 17h0M1221 390h0M1423 448h0M1246 621h0M1706 592h0M1423 812h0M599 618h0M719 929h0M489 1216h0M1574 172h0M909 860h0M1544 709h0M908 882h0M2295 76h0M863 846h0M976 731h0M1170 944h0M1402 723h0M1333 1018h0M1322 416h0M1539 976h0M1316 122h0M563 706h0M1081 455h0M741 483h0M876 275h0M692 1011h0M138 981h0M616 529h0M535 302h0M1368 1196h0M1765 780h0M1346 1130h0M722 460h0M1812 749h0M1493 19h0M1839 1076h0M241 349h0M1558 815h0M217 868h0M959 5h0M1852 229h0M2057 1074h0M1430 437h0M1497 35h0M1078 164h0M932 879h0M2112 477h0M2160 71h0M1944 881h0M1991 672h0M801 706h0M105 190h0M2128 318h0M1690 629h0M1933 1175h0M179 555h0M422 690h0M1617 614h0M1287 779h0M1984 997h0M963 1252h0M761 839h0M757 635h0M1804 376h0M326 445h0M1553 500h0M742 941h0M1062 1128h0M1056 1040h0M1600 82h0M631 494h0M1116 1089h0M1213 908h0M1581 1069h0M1845 619h0M1218 468h0M1746 967h0M1735 616h0M768 331h0M104 1017h0M102 1101h0M155 1205h0M1309 768h0M880 672h0M1690 676h0M1469 640h0M2096 271h0M1439 1003h0M665 159h0M212 422h0M314 231h0M2139 31h0M1757 207h0M1153 182h0M652 955h0M1085 438h0M1157 364h0M469 46h0M2080 219h0M824 747h0M1599 826h0M1974 279h0M684 1085h0M1799 364h0M2163 938h0M1965 330h0M1242 180h0M623 521h0M4 817h0M2191 996h0M2131 718h0M615 492h0M1010 134h0M1772 760h0M554 361h0M1599 1193h0M1375 299h0M42 215h0M1665 1245h0M467 863h0M822 652h0M2087 729h0M603 315h0M1287 53h0M2136 284h0M2087 540h0M223 940h0M1656 88h0M1142 449h0M2139 959h0M14 811h0M2121 940h0M1826 1187h0M1142 1132h0M1074 902h0M1173 429h0M1067 202h0M1991 139h0M1491 1101h0M1563 523h0M1805 841h0M1315 710h0M1230 1157h0M413 751h0M963 715h0M50 689h0M507 581h0M1380 690h0M1663 653h0M540 136h0M466 931h0M1862 541h0M480 10h0M909 950h0M274 636h0M239 775h0M520 733h0M1769 183h0M1465 296h0M1648 255h0M1409 1070h0M738 432h0M123 884h0M1685 741h0M1764 707h0M1125 358h0M318 148h0M1617 545h0M534 1144h0M185 147h0M820 248h0M356 588h0M1342 651h0M728 615h0M1069 44h0M1414 945h0M1672 277h0M1621 516h0M1948 625h0M1260 458h0M1349 283h0M738 872h0M725 214h0M923 763h0M1052 210h0M2292 326h0M1056 1223h0M13 543h0M1488 1268h0M841 680h0M1098 851h0M1116 482h0M1406 785h0M545 1226h0M469 467h0M652 322h0M499 1113h0M1369 526h0M1909 206h0M1037 474h0M638 630h0M753 878h0M1058 666h0M787 190h0M712 1095h0M1486 258h0M800 1100h0M479 139h0M1680 655h0M1324 1074h0M1845 742h0M1844 928h0M242 800h0M689 976h0M516 31h0M1235 921h0M386 392h0M193 551h0M1776 376h0M439 375h0M125 986h0M484 625h0M2089 134h0M371 617h0M752 268h0M741 210h0M1279 1242h0M962 19h0M68 368h0M493 203h0M608 214h0M1000 923h0M1009 431h0M1473 363h0M1098 999h0M654 187h0M984 827h0M1549 524h0M851 670h0M512 1151h0M2034 291h0M1808 699h0M487 656h0M183 74h0M1147 690h0M1646 494h0M728 492h0M1037 23h0M726 903h0M623 929h0M604 513h0M1148 277h0M1738 1221h0M1293 401h0M1163 1204h0M1460 312h0M211 165h0M1752 1099h0M1625 197h0M1376 70h0M488 503h0M406 905h0M2154 468h0M953 546h0M60 306h0M1591 810h0M1038 1094h0M1963 1056h0M1040 909h0M208 1218h0M1652 722h0M1503 680h0M723 159h0M1266 52h0M611 1248h0M1024 171h0M357 733h0M576 215h0M94 118h0M992 284h0M826 428h0M1764 1154h0M1249 171h0M1444 1072h0M1811 60h0M904 589h0M1596 375h0M1063 24h0M1092 232h0M1281 562h0M1327 443h0M2074 715h0M1001 604h0M416 1090h0M1070 741h0M1596 568h0M1832 740h0M961 631h0M349 954h0M1726 169h0M1151 712h0M1726 789h0M988 539h0M1634 1151h0M1645 560h0M339 856h0M1609 108h0M1140 808h0M1696 338h0M33 242h0M1855 401h0M1156 845h0M939 446h0M1923 657h0M1117 1051h0M2110 924h0M676 617h0M1974 143h0M1518 1221h0M1145 933h0M1097 199h0M1041 1009h0M468 819h0M1107 940h0M710 540h0M730 397h0M371 537h0M308 1229h0M1262 350h0M1372 1074h0M1680 596h0M1996 722h0M725 836h0M1948 449h0M368 722h0M1197 800h0M847 931h0M978 715h0M1355 822h0M1601 493h0M145 935h0M275 1200h0M1620 363h0M811 341h0M1967 790h0M373 639h0M819 499h0M12 317h0M1624 812h0M1240 135h0M241 528h0M1254 117h0M928 1007h0M775 231h0M984 929h0M1063 105h0M2095 604h0M101 33h0M124 827h0M1386 629h0M464 507h0M706 590h0M876 262h0M1830 386h0M1006 410h0M1464 504h0M1311 1084h0M1765 942h0M1054 882h0M105 670h0M706 315h0M2025 21h0M1482 695h0M103 150h0M373 276h0M1448 221h0M605 970h0M1910 322h0M971 1195h0M703 153h0M935 137h0M636 777h0M588 746h0M565 915h0M1241 12h0M781 8h0M1324 648h0M1079 730h0M1646 953h0M1325 399h0M1719 565h0M1352 1196h0M968 908h0M1797 830h0M591 1180h0M1149 725h0M1384 732h0M1220 670h0M749 341h0M1119 670h0M1180 866h0M1490 808h0M666 707h0M1249 226h0M927 573h0M1966 217h0M280 383h0M1444 743h0M2228 613h0M355 508h0M1768 879h0M882 1052h0M1998 829h0M1723 168h0M2029 936h0M801 781h0M180 421h0M1855 474h0M630 1166h0M1804 858h0M892 686h0M419 498h0M952 687h0M1494 65h0M410 463h0M1945 488h0M734 56h0M577 962h0M573 1020h0M771 1191h0M286 1102h0M1183 647h0M1736 776h0M826 390h0M51 846h0M924 1283h0M1155 1049h0M1924 855h0M1143 964h0M1041 271h0M916 488h0M898 799h0M1906 706h0M1746 982h0M889 656h0M1904 943h0M1766 541h0M1339 328h0M1681 924h0M1308 728h0M2239 118h0M389 1001h0M1161 641h0M2094 616h0M1733 1255h0M1590 988h0M825 514h0M2146 1030h0M1133 413h0M1547 896h0M426 321h0M2058 587h0M53 124h0M1095 585h0M787 649h0M827 478h0M1333 70h0M377 58h0M148 454h0M658 299h0M655 1033h0M415 489h0M54 452h0M2184 183h0M2251 695h0M881 442h0M1801 469h0M757 163h0M1373 437h0M243 104h0M2012 1096h0M604 1187h0M2070 1121h0M36 432h0M940 1000h0M304 56h0M1495 1051h0M1945 969h0M1004 442h0M857 1044h0M172 478h0M2034 1115h0M999 885h0M845 907h0M292 147h0M377 530h0M2152 540h0M156 1040h0M797 829h0M1523 349h0M1054 419h0M779 194h0M1678 163h0M299 677h0M1019 402h0M1483 1263h0M546 640h0M1526 864h0M1542 843h0M183 179h0M973 1043h0M383 1050h0M2031 348h0M1272 209h0M1058 524h0M1408 1119h0M765 774h0M452 923h0M763 1025h0M1117 224h0M1690 557h0M907 10h0M790 1128h0M155 584h0M610 52h0M148 703h0M783 564h0M709 560h0M211 164h0M681 1155h0M527 445h0M1814 30h0M1135 1194h0M1436 1082h0M2144 770h0M1107 436h0M477 296h0M1938 265h0M1280 51h0M866 786h0M1629 380h0M1031 193h0M152 933h0M1328 54h0M654 799h0M1232 663h0M696 479h0M223 642h0M1237 237h0M1176 589h0M987 468h0M801 739h0M2111 802h0M219 951h0M2056 476h0M1680 672h0M1407 1124h0M1188 541h0M1099 504h0M1736 1216h0M526 527h0M1286 123h0M426 1002h0M1609 493h0M1683 523h0M1205 166h0M572 198h0M1622 711h0M2079 1053h0M791 569h0M1473 1269h0M1025 111h0M526 1084h0M1813 540h0M766 1146h0M737 615h0M1182 1202h0M2118 546h0M189 1107h0M907 153h0M287 1022h0M1350 1285h0M1580 374h0M426 1173h0M926 454h0M924 292h0M1035 478h0M870 454h0M1224 966h0M1150 1274h0M61 558h0M302 1059h0M2054 1225h0M2236 325h0M1495 1235h0M1564 220h0M1308 712h0M800 710h0M1669 935h0M2104 774h0M1201 814h0M179 919h0M438 727h0M1882 507h0M1097 431h0M810 512h0M1577 274h0M108 908h0M1517 770h0M1476 113h0M795 900h0M1700 233h0M2129 850h0M1505 339h0M968 570h0M497 378h0M2093 1083h0M382 836h0M568 1137h0M1294 138h0M2140 708h0M2242 531h0M991 972h0M423 199h0M962 531h0M501 645h0M442 967h0M1006 497h0M1029 248h0M1424 555h0M835 1144h0M1246 241h0M1222 316h0M565 848h0M1794 433h0M244 213h0M744 1256h0M1631 68h0M365 773h0M1325 1273h0M1900 497h0M185 365h0M821 415h0M1307 677h0M907 930h0M302 438h0M1274 109h0M1696 371h0M1072 123h0M955 1003h0M1212 520h0M987 397h0M1712 902h0M348 364h0M726 884h0M1042 404h0M726 605h0M1659 694h0M785 443h0M563 566h0M681 234h0M830 23h0M2047 5h0M2297 624h0M698 135h0M1087 895h0M1497 1266h0M1097 489h0M957 1017h0M602 1000h0M999 1172h0M190 752h0M278 175h0M498 143h0M592 986h0M1328 715h0M1098 223h0M1236 922h0M2082 409h0M1997 256h0M1154 327h0M964 241h0M375 1092h0M605 760h0M2294 824h0M1546 52h0M1501 194h0M502 295h0M1214 1057h0M1240 205h0M390 807h0M1498 562h0M59 92h0M99 527h0M250 766h0M909 548h0M260 1171h0M1169 442h0M810 907h0M1354 945h0M494 892h0M1344 819h0M1269 1087h0M131 770h0M992 744h0M2097 902h0M1981 988h0M2206 409h0M1421 1146h0M1280 355h0M1567 596h0M453 169h0M452 929h0M1226 1171h0M1605 747h0M1396 865h0M1393 545h0M212 1196h0M1581 714h0M822 365h0M701 140h0M1223 469h0M1397 1059h0M800 786h0M1371 773h0M1280 1261h0M911 666h0M1826 942h0M997 601h0M1503 976h0M1636 418h0M649 84h0M1321 1192h0M1542 400h0M1505 956h0M1117 160h0M1923 1107h0M299 429h0M1072 1078h0M678 1139h0M1745 202h0M1809 1273h0M1484 710h0M1148 317h0M349 639h0M1404 409h0M1577 501h0M249 803h0M1004 165h0M605 820h0M1095 351h0M1175 814h0M1568 869h0M1507 1032h0M1689 80h0M1821 89h0M132 39h0M9 1225h0M1785 950h0M1808 491h0M2128 241h0M1692 638h0M1016 676h0M1442 544h0M315 814h0M1401 404h0M1276 593h0M1525 457h0M664 699h0M810 111h0M2080 562h0M2266 547h0M1636 916h0M1123 1090h0M1747 980h0M1281 202h0M2260 627h0M1209 195h0M734 181h0M971 394h0M945 437h0M1541 320h0M1201 615h0M521 616h0M449 267h0M1229 969h0M1579 309h0M1652 275h0M341 891h0M1710 1078h0M1324 168h0M155 1143h0M1962 399h0M1538 936h0M1463 531h0M984 1173h0M453 1173h0M755 1019h0M367 127h0M1294 695h0M1966 680h0M834 586h0M574 747h0M228 835h0M1194 492h0M171 162h0M1678 1121h0M1505 1285h0M1446 449h0M979 483h0M938 976h0M444 140h0M1185 237h0M1680 687h0M945 822h0M1049 35h0M1484 1009h0M1147 1037h0M923 699h0M921 1177h0M1251 561h0M1086 1075h0M595 776h0M1368 869h0M283 318h0M1199 152h0M951 1191h0M1725 315h0M1033 824h0M1603 1116h0M1008 68h0M209 198h0M187 941h0M1085 367h0M1061 69h0M514 1130h0M1872 920h0M862 647h0M848 898h0M86 477h0M1487 593h0M1829 339h0M763 855h0M1867 1241h0M1396 668h0M2108 408h0M1106 549h0M1005 577h0M1097 1205h0M1052 1168h0M1446 572h0M1351 1055h0M1396 805h0M809 852h0M1861 870h0M1190 891h0M217 1138h0M1653 601h0M1335 1234h0M549 325h0M1464 398h0M1320 723h0M950 1041h0M384 355h0M1327 410h0M1086 866h0M929 431h0M1498 312h0M7 1138h0M1372 1118h0M1880 510h0M817 737h0M1712 475h0M277 693h0M1017 803h0M370 436h0M1358 918h0M114 135h0M1332 1200h0M1531 520h0M2182 590h0M2208 263h0M1313 691h0M1325 1108h0M896 813h0M2110 971h0M1652 361h0M808 782h0M811 650h0M1370 805h0M1045 438h0M1749 327h0M606 288h0M2288 658h0M841 969h0M2164 123h0M499 226h0M1347 556h0M1653 1167h0M152 49h0M260 235h0M1503 155h0M43 941h0M549 1057h0M1749 1052h0M1732 487h0M101 407h0M1101 325h0M787 795h0M130 464h0M1883 514h0M1116 808h0M601 59h0M2035 870h0M2181 330h0M1054 109h0M832 743h0M1249 333h0M1890 698h0M1416 1139h0M1361 890h0M21 431h0M236 545h0M435 877h0M903 790h0M1064 969h0M495 243h0M2059 435h0M1088 976h0M1536 523h0M1862 1127h0M2293 668h0M2186 326h0M1261 476h0M829 602h0M1144 1009h0M1055 132h0M396 130h0M1967 476h0M798 1007h0M272 37h0M1013 632h0M4 16h0M1243 856h0M775 687h0M15 230h0M1842 598h0M1373 723h0M1247 322h0M1707 1153h0M1275 746h0M1809 420h0M2161 674h0M361 185h0M1893 204h0M1213 102h0M1771 733h0M932 526h0M2119 941h0M1238 56h0M1739 350h0M685 1212h0M760 644h0M2238 123h0M1201 67h0M1456 1050h0M1465 385h0M1554 484h0M2034 4h0M2003 1097h0M729 648h0M593 204h0M80 162h0M1277 616h0M2063 338h0M673 623h0M909 114h0M520 1015h0M414 712h0M1433 705h0M952 650h0M1387 866h0M371 469h0M825 667h0M1291 250h0M1466 820h0M1602 677h0M708 551h0M260 479h0M1802 638h0M1419 686h0M2040 922h0M825 607h0M651 1178h0M535 319h0M332 299h0M2119 649h0M981 1014h0M1740 849h0M1125 216h0M1082 1178h0M1157 566h0M24 373h0M690 765h0M1446 18h0M801 1201h0M1481 1070h0M851 1010h0M1006 505h0M1310 1020h0M619 178h0M985 566h0M464 514h0M870 415h0M1264 983h0M1044 758h0M2049 365h0M484 1120h0M1282 122h0M1881 377h0M1372 557h0M308 451h0M1256 160h0M718 1222h0M791 480h0M70 708h0M713 610h0M1133 1071h0M1887 416h0M2080 479h0M1518 826h0M1371 855h0M1103 816h0M1347 386h0M1752 740h0M904 459h0M1569 311h0M269 673h0M996 50h0M1404 320h0M997 512h0M405 821h0M735 785h0M901 287h0M1117 1234h0M737 1094h0M1020 1022h0M1382 297h0M178 706h0M526 210h0M1196 433h0" stroke="#2b78a2" stroke-width="1.9" stroke-opacity=".30" stroke-linecap="round" fill="none"/>
<path d="M231 187h0M692 631h0M869 1242h0M1822 1028h0M1304 778h0M967 472h0M1331 355h0M1491 1215h0M1023 1003h0M908 664h0M680 1262h0M1965 633h0M783 217h0M435 1069h0M1088 501h0M704 510h0M86 764h0M643 376h0M463 585h0M1609 997h0M589 698h0M575 116h0M539 330h0M1857 474h0M128 505h0M1821 150h0M1473 525h0M618 72h0M656 227h0M359 493h0M430 445h0M1902 929h0M860 888h0M384 982h0M1186 762h0M1688 207h0M787 237h0M1604 948h0M1041 249h0M2039 595h0M1101 991h0M1215 808h0M393 145h0M1349 898h0M1175 229h0M1735 196h0M1018 1053h0M1569 369h0M219 988h0M1039 844h0M817 561h0M1779 987h0M298 717h0M1371 940h0M2059 942h0M711 828h0M552 110h0M638 21h0M837 631h0M1239 157h0M1282 622h0M1278 804h0M1261 83h0M1874 1149h0M875 652h0M1370 936h0M1336 325h0M974 960h0M1531 379h0M554 477h0M1312 818h0M297 752h0M1982 357h0M1449 902h0M520 57h0M684 735h0M969 1217h0M1165 960h0M616 736h0M836 678h0M1721 738h0M1403 384h0M983 1250h0M1526 1252h0M543 657h0M1606 970h0M1861 346h0M2149 927h0M2048 358h0M36 518h0M1436 451h0M1944 494h0M571 1144h0M2056 1110h0M976 286h0M1010 221h0M217 1261h0M1552 689h0M667 1046h0M710 772h0M1395 882h0M534 815h0M1225 203h0M1936 557h0M2002 573h0M827 434h0M1075 973h0M919 295h0M1135 1061h0M138 932h0M1383 633h0M2192 612h0M1404 902h0M540 434h0M973 309h0M930 415h0M1605 1073h0M872 1149h0M1602 893h0M1866 802h0M1556 583h0M1763 822h0M1117 206h0M2018 1189h0M1884 452h0M120 980h0M580 422h0M1098 969h0M1783 877h0M744 332h0M1446 371h0M899 825h0M276 496h0M777 210h0M518 317h0M1883 763h0M523 718h0M1811 962h0M1732 891h0M898 723h0M114 873h0M1071 554h0M1871 747h0M1481 859h0M1006 792h0M369 799h0M1485 1140h0M601 478h0M712 836h0M707 833h0M1225 541h0M844 931h0M43 742h0M1297 831h0M1333 164h0M75 705h0M1974 1177h0M1341 339h0M351 1031h0M1503 495h0M1918 487h0M1088 1203h0M1984 1259h0M1118 809h0M474 624h0M1495 967h0M311 947h0M1859 128h0M1981 1101h0M2156 598h0M853 159h0M442 389h0M910 59h0M1117 212h0M555 719h0M1735 401h0M1968 604h0M616 235h0M368 292h0M2194 264h0M764 895h0M1548 296h0M913 549h0M726 407h0M529 1029h0M1865 831h0M1284 475h0M438 806h0M479 530h0M985 691h0M178 286h0M535 351h0M1898 15h0M777 888h0M1052 1166h0M2119 633h0M1705 1020h0M709 861h0M1318 1104h0M864 887h0M665 144h0M901 1132h0M798 1135h0M1198 94h0M754 915h0M751 784h0M711 111h0M315 420h0M2170 1079h0M117 604h0M74 1200h0M1433 563h0M767 842h0M1133 209h0M994 96h0M968 360h0M819 495h0M1021 216h0M765 430h0M1162 6h0M1253 760h0M764 1238h0M586 982h0M1538 389h0M822 213h0M1263 895h0M6 92h0M848 601h0M132 55h0M99 54h0M818 463h0M745 1221h0M1884 957h0M1358 147h0M1142 237h0M794 172h0M1326 771h0M1307 122h0M979 1132h0M1100 243h0M747 321h0M421 855h0M403 930h0M699 1142h0M2115 382h0M1393 658h0M869 1219h0M1480 125h0M279 659h0M2112 503h0M1032 700h0M867 676h0M1151 854h0M20 520h0M377 1128h0M1388 101h0M593 524h0M2198 540h0M1585 171h0M2139 306h0M330 846h0M1095 989h0M340 18h0M1072 53h0M1764 1036h0M1538 803h0M28 407h0M753 667h0M517 44h0M1017 843h0M1554 635h0M1725 845h0M1748 943h0M2044 559h0M1943 771h0M1291 445h0M1709 102h0M758 350h0M599 387h0M1235 1074h0M2099 694h0M613 934h0M1728 1085h0M949 1221h0M1699 582h0M1129 748h0M1770 695h0M966 1182h0M2186 993h0M695 809h0M1229 848h0M684 373h0M485 931h0M913 160h0M392 548h0M799 862h0M1007 985h0M889 148h0M794 442h0M603 673h0M963 453h0M1677 888h0M708 510h0M1314 1223h0M781 435h0M426 93h0M1889 352h0M529 8h0M1691 1232h0M420 229h0M876 400h0M162 490h0M2066 1090h0M993 268h0M983 896h0M2078 828h0M747 1171h0M78 886h0M1568 681h0M1927 211h0M2190 463h0M1834 633h0M1733 245h0M1255 45h0M617 731h0M1420 288h0M501 129h0M1176 1211h0M128 785h0M352 633h0M241 492h0M1035 693h0M1868 703h0M1252 425h0M1406 1051h0M1481 592h0M2109 18h0M516 822h0M1435 835h0M1040 648h0M1250 809h0M288 976h0M494 838h0M130 281h0M611 422h0M1023 514h0M1420 451h0M225 706h0M1212 1218h0M1649 625h0M1171 346h0M561 623h0M1072 954h0M1102 612h0M2188 1237h0M844 659h0M1868 1139h0M1660 681h0M805 1151h0M1540 328h0M1587 851h0M240 616h0M1207 796h0M1748 453h0M1833 364h0M1759 663h0M296 715h0M2256 106h0M1730 737h0M830 587h0M807 807h0M186 234h0M649 949h0M1261 543h0M226 677h0M1248 850h0M1567 340h0M1897 829h0M823 581h0M376 4h0M1441 1146h0M1129 482h0M967 622h0M1781 391h0M1595 452h0M471 70h0M1010 1000h0M730 52h0M372 68h0M1805 166h0M1262 826h0M734 721h0M1364 803h0M1797 1197h0M1611 560h0M1312 153h0M1752 586h0M1052 553h0M1689 646h0M496 669h0M1531 1096h0M273 1255h0M671 845h0M1005 708h0M857 96h0M1220 1094h0M203 896h0M1500 866h0M731 314h0M878 481h0M903 908h0M1678 730h0M1097 1227h0M97 541h0M748 755h0M1964 1151h0M1016 685h0M877 328h0M1019 633h0M973 722h0M756 689h0M918 288h0M1248 463h0M1084 551h0M1534 442h0M1673 902h0M16 935h0M1751 172h0M1212 464h0M1506 657h0M434 933h0M1185 825h0M1864 297h0M1258 394h0M784 510h0M933 701h0M1392 357h0M1621 444h0M1674 682h0M2216 196h0M1010 612h0M464 178h0M1872 524h0M483 897h0M2056 558h0M1151 307h0M787 960h0M1724 197h0M1992 578h0M1969 726h0M2252 514h0M1743 627h0M913 728h0M562 827h0M337 326h0M754 259h0M380 426h0M2191 716h0M301 202h0M1405 439h0M1924 1173h0M1993 215h0M1908 0h0M402 364h0M1115 497h0M1014 499h0M456 397h0M1156 249h0M1045 445h0M1691 1265h0M1092 253h0M1210 302h0M128 248h0M858 849h0M631 462h0M1328 750h0M540 519h0M1842 621h0M1051 27h0M526 653h0M537 187h0M1126 1178h0M1196 1275h0M1704 855h0M305 250h0M128 912h0M1473 395h0M324 38h0M149 1054h0M1799 1046h0M247 485h0M1821 1194h0M1473 1137h0M1115 632h0M309 281h0M263 884h0M1053 921h0M2194 343h0M1785 241h0M1792 584h0M478 552h0M1526 1070h0M635 579h0M897 632h0M1721 912h0M315 233h0M1572 898h0M707 805h0M1814 968h0M628 651h0M1875 381h0M1995 960h0M1313 347h0M1041 422h0M908 479h0M616 1126h0M2222 257h0M721 629h0M2186 523h0M1511 560h0M362 466h0M769 220h0M999 459h0M1391 1088h0M542 634h0M2020 776h0M1633 243h0M2288 124h0M269 924h0M987 1094h0M1093 615h0M1050 1093h0M1467 1043h0M279 945h0M1133 954h0M625 501h0M1949 281h0M886 679h0M202 690h0M1646 1051h0M1892 1118h0M1466 474h0M2079 104h0M1434 844h0M828 349h0M1517 906h0M1454 584h0M390 277h0M979 1173h0M1329 804h0M2246 367h0M1373 435h0M1066 536h0M149 1180h0M320 808h0M494 89h0M343 631h0M1823 1137h0M1044 818h0M1918 579h0M297 957h0M2286 758h0M919 1093h0M1502 94h0M845 224h0M2219 1006h0M1760 668h0M385 1231h0M74 996h0M959 555h0M486 67h0M1960 416h0M1447 333h0M937 124h0M1082 191h0M265 436h0M1332 235h0M2172 833h0M2015 601h0M1464 673h0M1424 331h0M1924 677h0M304 591h0M1226 155h0M1610 433h0M726 291h0M1813 1064h0M1158 943h0M207 48h0M1912 729h0M1550 1090h0M510 287h0M158 92h0M1278 509h0M1745 121h0M1002 563h0M830 825h0M1134 484h0M1653 605h0M64 177h0M345 747h0M1233 1022h0M1478 161h0M476 663h0M568 302h0M1668 542h0M2088 979h0M1994 564h0M889 692h0M194 603h0M455 841h0M718 734h0M1234 599h0M1313 226h0M1580 241h0M790 244h0M949 585h0M263 838h0M367 688h0M1413 523h0M775 266h0M1108 456h0M1732 436h0M1652 256h0M1774 980h0M1229 1022h0M516 310h0M1399 625h0M1256 571h0M1639 69h0M1124 1029h0M1661 598h0M1375 811h0M321 1021h0M1432 689h0M1017 561h0M285 526h0M1838 407h0M973 835h0M1056 692h0M1146 1055h0M1332 822h0M1030 718h0M534 233h0M1469 398h0M1130 470h0M2157 729h0M614 520h0M93 294h0M307 282h0M1777 578h0M1111 594h0M821 1227h0M187 280h0M1084 1028h0M1626 685h0M398 464h0M1317 448h0M804 1108h0M1734 838h0M515 131h0M1088 215h0M1561 302h0M1451 956h0M332 404h0M382 67h0M761 132h0M1717 1249h0M934 62h0M1262 824h0M717 578h0M1222 564h0M1173 276h0M959 673h0M1614 855h0M1220 43h0M1760 164h0M477 854h0M1570 302h0M217 828h0M1374 842h0M1 542h0M1505 352h0M1517 1237h0M1057 0h0M1505 818h0M1089 1272h0M1425 1072h0M1162 604h0M1052 414h0M2201 529h0M884 29h0M695 1014h0M127 548h0M1722 287h0M521 1077h0M2059 1228h0M1757 1248h0M1830 298h0M1387 523h0M813 248h0M1238 1230h0M345 296h0M1063 519h0M936 1066h0M1897 464h0M903 1011h0M1823 848h0M109 398h0M1719 581h0M1325 271h0M1391 743h0M1180 1049h0M2078 1017h0M1036 65h0M2258 615h0M772 1015h0M964 398h0M361 480h0M1142 1217h0M2034 439h0M2186 415h0M1317 261h0M1022 1052h0M404 974h0M1408 1082h0M1408 133h0M581 239h0M1427 714h0M531 580h0M1006 498h0M442 918h0M1959 93h0M1034 398h0M829 99h0M1346 800h0M1057 614h0M2050 875h0M1208 279h0M154 1002h0M1106 967h0M80 1245h0M1705 1094h0M403 1075h0M1741 1104h0M624 886h0M598 720h0M1350 1093h0M1258 613h0M701 486h0M1992 794h0M539 364h0M1308 729h0M1249 876h0M1481 1183h0M1862 1195h0M1330 232h0M1198 622h0M1189 555h0M1114 683h0M1539 341h0M1188 510h0M1131 224h0M578 640h0M2197 552h0M1995 1024h0M1636 589h0M1529 986h0M948 638h0M1201 419h0M1720 1037h0M645 677h0M2136 972h0M431 1272h0M998 1028h0M182 327h0M160 581h0M1128 121h0M1799 320h0M1251 1048h0M134 318h0M1138 758h0M1390 257h0M726 582h0M838 637h0M811 590h0M1222 61h0M1308 242h0M1205 39h0M233 1170h0M88 880h0M1465 257h0M1006 593h0M1266 780h0M367 1011h0M660 681h0M1957 592h0M262 526h0M931 219h0M786 709h0M447 1135h0M1640 268h0M456 444h0M970 1195h0M1271 1220h0M1229 818h0M1497 1283h0M1006 779h0M589 1103h0M2248 651h0M2255 1160h0M338 662h0M1940 462h0M1475 711h0M1647 480h0M630 493h0M1453 74h0M889 802h0M1675 795h0M1384 198h0M1099 977h0M1548 378h0M290 45h0M1606 932h0M727 990h0M2276 873h0M1284 88h0M1245 402h0M402 363h0M278 1184h0M1250 4h0M1556 1096h0M535 318h0M2142 1070h0M1541 199h0M1242 694h0M1165 1028h0M1255 1109h0M304 436h0M1327 90h0M1638 1197h0M2086 185h0M1556 112h0M1318 677h0M1395 110h0M612 1217h0M1628 573h0M2073 946h0M673 191h0M1819 863h0M1411 704h0M290 171h0M434 574h0M1113 383h0M533 423h0M1768 135h0M182 442h0M2237 163h0M1029 1004h0M1250 680h0M767 665h0M397 832h0M686 796h0M251 363h0M1184 384h0M1996 946h0M1904 91h0M757 1019h0M1842 797h0M1244 291h0M1008 751h0M1050 956h0M1050 861h0M546 48h0M1321 350h0M1910 862h0M1210 1074h0M717 520h0M658 1133h0M981 215h0M749 431h0M1240 269h0M1059 543h0M1770 282h0M1331 712h0M1658 620h0M74 680h0M2160 603h0M2050 927h0M861 735h0M881 1045h0M1171 424h0M1582 133h0M478 349h0M812 380h0M1169 564h0M1381 1265h0M887 445h0M187 166h0M1265 927h0M453 679h0M2191 170h0M815 788h0M1844 1232h0M463 886h0M1753 689h0M1629 331h0M241 912h0M1536 480h0M814 609h0M64 858h0M1779 325h0M228 1027h0M1073 595h0M742 448h0M943 525h0M1198 1221h0M1194 999h0M748 16h0M1132 853h0M1172 52h0M1499 853h0M1248 1281h0M426 594h0M1470 305h0M1089 1143h0M419 91h0M867 765h0M108 882h0M132 818h0M209 951h0M2077 475h0M853 962h0M1274 635h0M1048 323h0M181 760h0M2292 393h0M352 1052h0M466 891h0M824 798h0M2071 515h0M1075 810h0M865 274h0M1613 241h0M1130 734h0M472 759h0M212 377h0M506 476h0M385 695h0M2274 806h0M981 549h0M1429 97h0M694 920h0M191 804h0M928 522h0M737 677h0M364 678h0M733 466h0M1873 111h0M1192 108h0M515 958h0M774 969h0M205 706h0M1746 392h0M1646 735h0M518 140h0M1951 957h0M1194 1001h0M886 975h0M2038 56h0M1081 1142h0M1208 735h0M1431 242h0M975 875h0M262 699h0M61 845h0M2061 211h0M670 438h0M519 164h0M1273 199h0M1027 282h0M685 420h0M677 384h0M182 223h0M985 1053h0M1333 1246h0M832 421h0M966 575h0M821 1039h0M1560 887h0M1609 896h0M1265 488h0M1830 368h0M2071 336h0M732 826h0M1372 1197h0M1559 504h0M330 776h0M1562 769h0M1034 534h0M2017 942h0M1067 636h0M631 183h0M1617 1192h0M924 920h0M1176 1163h0M1641 1033h0M1969 710h0M434 191h0M1402 662h0M570 751h0M1011 244h0M1159 1099h0M2163 1023h0M392 786h0M288 326h0M644 307h0M1272 986h0M2004 904h0M1738 409h0M1763 992h0M1051 60h0M1361 912h0M1161 812h0M1820 1080h0M1180 397h0M2037 460h0M894 262h0M1021 775h0M1292 51h0M1072 860h0M402 508h0M1490 38h0M980 393h0M1115 498h0M1016 1026h0M1558 427h0M408 953h0M344 612h0M1914 770h0M195 775h0M2278 1241h0M325 339h0M569 422h0M723 373h0M26 625h0M1912 1104h0M1378 506h0M587 17h0M1195 112h0M1543 99h0M520 376h0M1507 96h0M2091 656h0M1509 284h0M630 731h0M632 1087h0M1697 402h0M353 413h0M1600 285h0M986 656h0M246 186h0M148 292h0M2051 142h0M616 952h0M84 1015h0M1955 272h0M1498 105h0M614 550h0M2069 418h0M1376 498h0M1304 958h0M1091 942h0M895 884h0M362 309h0M1827 904h0M1517 606h0M304 340h0M1738 95h0M2168 977h0M159 965h0M1660 257h0M1849 724h0M472 1217h0M1005 745h0M1584 788h0M1195 1226h0M889 746h0M1638 156h0M17 305h0M861 443h0M392 1010h0M655 1236h0M902 1225h0M1428 1034h0M267 655h0M985 1229h0M2017 938h0M1131 454h0M1277 556h0M1165 886h0M186 1095h0M2233 855h0M1618 147h0M1892 590h0M462 105h0M630 509h0M293 420h0M1142 887h0M1185 413h0M783 253h0M1190 594h0M537 777h0M893 198h0M1464 675h0M465 131h0M414 885h0M140 664h0M1138 426h0M1139 886h0M717 564h0M864 99h0M537 415h0M1976 901h0M1480 508h0M769 326h0M842 616h0M1243 1226h0M1208 934h0M233 877h0M1130 83h0M1745 625h0M1382 963h0M243 818h0M1539 415h0M519 605h0M1906 462h0M1051 268h0M1729 441h0M1797 800h0M1359 848h0M2290 910h0M398 1081h0M807 201h0M876 460h0M830 564h0M1004 418h0M2071 345h0M512 747h0M1441 366h0M1496 1188h0M866 1080h0M1469 998h0M772 777h0M121 717h0M1772 292h0M1432 407h0M562 624h0M2191 629h0M250 410h0M1037 839h0M1249 135h0M2145 418h0M473 323h0M1634 1080h0M2004 610h0M1510 30h0M1883 589h0M2113 375h0M1502 778h0M651 260h0M1198 312h0M1037 752h0M1420 871h0M1718 772h0M488 448h0M710 43h0M1359 516h0M1437 746h0M1338 502h0M1671 244h0M1507 211h0M1578 1233h0M1715 417h0M1240 860h0M988 644h0M1107 651h0M1103 924h0M1318 1223h0M998 659h0M646 581h0M566 563h0M175 153h0M284 147h0M1573 471h0M255 134h0M485 638h0M1339 425h0M1777 574h0M438 694h0M1219 694h0M623 914h0M1599 983h0M1850 665h0M1378 1268h0M2004 760h0M1368 835h0M1057 666h0M2201 800h0M1684 1280h0M964 125h0M1939 1009h0M1144 833h0M1012 848h0M310 995h0M2167 261h0M1272 1184h0M1103 259h0M856 478h0M339 648h0M174 524h0M852 830h0M1461 238h0M1257 157h0M1420 990h0M1821 245h0M1783 412h0M1518 477h0M2061 324h0M827 695h0M1059 526h0M1366 933h0M323 628h0M1461 960h0M435 911h0M2012 952h0M1366 433h0M1091 981h0M2288 382h0M421 532h0M1759 149h0M1619 74h0M438 288h0M1182 703h0M955 1213h0M1119 534h0M495 698h0M847 673h0M1894 483h0M1749 764h0M100 972h0M1423 218h0M1348 825h0M1629 113h0M1108 1191h0M1467 874h0M1475 792h0M1156 689h0M1816 874h0M421 562h0M1782 151h0M998 649h0M2237 1213h0M1975 767h0M1409 1030h0M1095 747h0M1029 486h0M1431 854h0M760 538h0M2180 894h0M2182 1023h0M27 954h0M856 1220h0M2179 599h0M1777 266h0M766 1081h0M1049 201h0M1439 201h0M1391 156h0M2185 492h0M495 415h0M1625 698h0M1073 384h0M241 56h0M496 732h0M2259 82h0M1180 608h0M2191 749h0M616 396h0M702 277h0M1230 1142h0M1219 361h0M52 700h0M1024 465h0M845 36h0M1431 634h0M941 856h0M2106 363h0M1377 188h0M1291 285h0M1562 734h0M942 760h0M1943 490h0M1118 338h0M1373 1144h0M132 244h0M2107 590h0M1186 96h0M364 832h0M1572 1222h0M1561 251h0M771 261h0M959 81h0M1953 267h0M948 1113h0M872 879h0M756 605h0M1770 1283h0M1619 570h0M1345 44h0M1086 716h0M1108 281h0M1769 1253h0M2230 1066h0M1663 1032h0M685 457h0M1662 1018h0M213 455h0M509 688h0M1277 830h0M1050 127h0M493 744h0M1428 542h0M800 958h0M499 137h0M1233 1085h0M334 637h0M414 708h0M1045 942h0M1942 1118h0M319 454h0M939 216h0M482 28h0M308 103h0M1017 1020h0M1339 357h0M1655 999h0M1587 980h0M669 349h0M1232 959h0M1295 785h0M951 650h0M1233 526h0M1651 807h0M1095 850h0M244 489h0M1500 990h0M1083 440h0M1027 871h0M1606 419h0M1290 693h0M1455 979h0M1267 347h0M185 695h0M1104 713h0M1179 309h0M438 1267h0M1045 16h0M212 301h0M73 429h0M1283 1000h0M2053 450h0M771 778h0M1313 784h0M234 166h0M1445 1072h0M1524 716h0M1654 570h0M176 1120h0M1676 107h0M1035 586h0M1084 43h0M1999 1015h0M1448 520h0M1969 724h0M1045 810h0M1143 431h0M713 969h0M875 782h0M221 304h0M1597 1030h0M16 849h0M1284 937h0M1757 955h0M849 1072h0M901 1276h0M1499 372h0M1049 940h0M151 322h0M154 419h0M346 515h0M237 4h0M178 1249h0M1196 661h0M755 1250h0M1214 882h0M1061 250h0M560 418h0M1114 1005h0M1091 431h0M1402 1183h0M1599 708h0M305 404h0M1846 945h0M1685 1038h0M1418 10h0M696 731h0M1280 654h0M2133 966h0M938 740h0M1381 233h0M1401 536h0M238 370h0M2040 948h0M711 964h0M1207 578h0M1134 355h0M815 379h0M832 577h0M671 153h0M2205 280h0M960 718h0M1957 417h0M2094 572h0M758 250h0M219 384h0M25 826h0M59 356h0M1069 151h0M1315 590h0M361 120h0M1851 391h0M1726 382h0M1641 903h0M1085 661h0M574 408h0M350 337h0M1047 250h0M411 434h0M909 30h0M930 971h0M751 438h0M1657 853h0M1479 1110h0M993 584h0M672 1006h0M486 441h0M1199 1081h0M331 74h0M839 719h0M2276 1141h0M1015 683h0M565 339h0M966 482h0M1458 723h0M948 184h0M1066 873h0M1890 172h0M505 16h0M1468 462h0M1952 1083h0M1060 252h0M492 1235h0M519 921h0M1192 21h0M1169 477h0M1056 144h0M1566 254h0M1292 1055h0M1724 792h0M2112 918h0M619 650h0M1755 196h0M1846 901h0M528 1085h0M1731 503h0M1807 731h0M1300 717h0M1553 345h0M1284 607h0M84 1225h0M1285 288h0M803 462h0M315 923h0M1904 1031h0M1185 568h0M675 1240h0M878 167h0M713 1112h0M1544 89h0" stroke="#3a93ba" stroke-width="2.0" stroke-opacity=".5" stroke-linecap="round" fill="none"/>
<path d="M268 1240h0M785 963h0M616 474h0M1103 968h0M1587 874h0M399 73h0M951 689h0M1093 583h0M1974 990h0M1700 243h0M1143 1035h0M147 634h0M808 835h0M1078 319h0M1391 642h0M566 773h0M973 616h0M1057 1067h0M1289 41h0M1361 954h0M87 756h0M1310 363h0M1081 615h0M538 634h0M1103 488h0M1782 198h0M1318 683h0M693 163h0M893 1164h0M921 247h0M781 645h0M751 570h0M531 862h0M1110 951h0M1707 594h0M638 408h0M1760 1181h0M1970 247h0M1228 489h0M465 699h0M251 720h0M488 350h0M1016 550h0M2128 866h0M519 94h0M1293 321h0M1438 790h0M1245 738h0M1346 877h0M1713 943h0M895 1097h0M293 870h0M1073 248h0M444 652h0M1939 293h0M406 769h0M739 158h0M736 511h0M1612 517h0M1624 717h0M341 768h0M1690 328h0M2118 990h0M1642 305h0M762 279h0M815 300h0M1094 445h0M821 352h0M978 659h0M1964 1226h0M1059 281h0M150 522h0M184 641h0M372 175h0M1082 597h0M1378 14h0M1357 893h0M2006 800h0M312 885h0M2160 513h0M1210 543h0M745 306h0M1860 252h0M1720 1136h0M765 937h0M722 140h0M1605 735h0M1109 785h0M1111 506h0M1652 917h0M283 722h0M459 310h0M1631 396h0M697 1164h0M1024 756h0M1569 647h0M1226 991h0M780 4h0M957 1007h0M1886 407h0M2169 433h0M2049 909h0M1160 312h0M77 695h0M1408 275h0M904 993h0M174 836h0M820 329h0M1247 47h0M1644 897h0M152 525h0M1519 916h0M856 529h0M587 942h0M651 428h0M1653 1031h0M112 285h0M689 906h0M1301 835h0M209 489h0M1624 1010h0M896 494h0M1943 390h0M212 595h0M1906 615h0M2298 544h0M1380 706h0M14 214h0M370 39h0M149 986h0M2087 678h0M1439 70h0M754 845h0M1596 1120h0M1580 1133h0M1795 469h0M1968 706h0M1584 997h0M376 198h0M1366 757h0M430 693h0M451 922h0M861 492h0M625 293h0M47 229h0M1044 175h0M1417 825h0M1825 227h0M1817 777h0M316 699h0M1023 717h0M255 686h0M1798 172h0M115 308h0M1130 1007h0M1176 292h0M1226 841h0M842 313h0M1526 330h0M1181 584h0M2128 20h0M678 102h0M1486 1131h0M757 488h0M1072 506h0M1390 90h0M678 1154h0M555 844h0M1382 1130h0M68 345h0M699 601h0M571 1120h0M1441 909h0M1046 926h0M572 1069h0M1119 62h0M1146 548h0M310 760h0M1994 917h0M1416 370h0M1624 647h0M1300 1250h0M1154 72h0M324 1014h0M284 883h0M1977 945h0M2236 1145h0M738 1283h0M438 887h0M107 575h0M471 297h0M315 393h0M1007 131h0M1283 968h0M610 1094h0M1210 367h0M687 649h0M828 267h0M728 234h0M1126 189h0M1807 667h0M895 661h0M1529 651h0M1409 699h0M1218 552h0M1396 509h0M1093 927h0M1808 1265h0M1709 871h0M1192 121h0M1563 786h0M1595 1147h0M1231 761h0M1634 899h0M1324 450h0M263 1258h0M334 428h0M1159 403h0M1490 436h0M1549 460h0M1256 587h0M347 882h0M1438 783h0M752 968h0M1592 417h0M1220 893h0M925 660h0M1605 181h0M2084 1072h0M349 368h0M2164 464h0M2121 726h0M2021 442h0M424 935h0M1339 1021h0M233 484h0M1594 457h0M1026 707h0M1393 227h0M1244 905h0M689 502h0M1494 1247h0M1738 1224h0M1236 905h0M2027 454h0M1978 366h0M590 1194h0M1429 1081h0M1220 978h0M622 914h0M831 1276h0M1181 1108h0M1436 865h0M743 511h0M448 663h0M1309 995h0M1615 953h0M825 339h0M684 244h0M1123 135h0M1952 760h0M762 542h0M1011 529h0M1405 219h0M554 170h0M1338 290h0M1806 876h0M1751 880h0M1589 315h0M696 883h0M865 268h0M849 762h0M1466 415h0M890 151h0M1182 306h0M1061 280h0M327 282h0M1813 539h0M1701 349h0M1481 208h0M865 795h0M1337 1284h0M1414 440h0M1703 803h0M1293 1173h0M998 593h0M914 402h0M1561 428h0M728 925h0M606 898h0M1263 1068h0M1696 41h0M1939 1272h0M1248 967h0M1249 271h0M784 486h0M338 616h0M1727 681h0M1601 888h0M118 661h0M842 732h0M1578 371h0M731 1026h0M1393 772h0M1603 558h0M1959 979h0M819 971h0M398 282h0M2100 237h0M878 600h0M526 864h0M594 322h0M1729 1019h0M1040 1126h0M1404 649h0M877 248h0M1367 469h0M376 682h0M884 1110h0M1138 1199h0M1025 704h0M477 930h0M1087 1184h0M835 637h0M363 218h0M974 513h0M500 50h0M1311 704h0M915 671h0M1666 684h0" stroke="#7cc4da" stroke-width="2.4" stroke-opacity=".75" stroke-linecap="round" fill="none"/>
</svg>
<div style="position:absolute;left:0;top:0;width:2300px;height:1289px;background:radial-gradient(ellipse 1300px 1000px at 1090px 610px, rgba(2,6,15,0) 0%, rgba(2,6,15,0) 45%, rgba(2,6,15,.35) 70%, rgba(2,6,15,.62) 100%);"></div>
<div style="position:absolute;left:0;top:0;width:2300px;height:1px;background:#1d1f26;"></div>
<div style="position:absolute;left:65.5px;top:9.7px;width:48.3px;height:58.6px;background:#14141f;"></div>
<svg width="2300" height="1289" viewBox="0 0 2300 1289">
<path d="M88.3 14.7 L107.1 19 L107.1 43.2 C107.1 51.5 100 58.6 88.5 64.2 C77 58.6 69 51.5 69 43.2 L69 19 Z" fill="#67cf7a"/>
<path d="M73.1 21.8 L87.8 18.8 L87.8 36.9 L73.1 36.9 Z" fill="#14141f"/>
<path d="M88.4 37.5 L102.9 37.5 L102.9 44.2 C102.6 50.5 97.2 55.6 88.4 59.6 Z" fill="#14141f"/>
</svg>
<div class="t" style="left:124.5px;top:26.4px;font-size:32.3px;line-height:32.3px;color:#f4f4f4;font-weight:bold;">全国食品安全抽检大数据实时监控</div>
<div class="t" style="left:61.2px;top:90.0px;font-size:31.2px;line-height:31.2px;color:#f2f2f2;font-weight:normal;">截至</div>
<div class="t" style="left:140.6px;top:92.3px;font-size:28.5px;line-height:28.5px;color:#f2f2f2;font-weight:normal;">2023-05-11 02:31:30</div>
<div class="panel" style="left:54.5px;top:152px;width:531px;height:330px;"><div class="in"></div><div class="dot" style="left:7.5px;top:7.5px;"></div><div class="dot" style="left:514.5px;top:7.5px;"></div><div class="dot" style="left:7.5px;top:313.5px;"></div><div class="dot" style="left:514.5px;top:313.5px;"></div></div>
<div class="panel" style="left:54.3px;top:518px;width:531px;height:329px;"><div class="in"></div><div class="dot" style="left:7.5px;top:7.5px;"></div><div class="dot" style="left:514.5px;top:7.5px;"></div><div class="dot" style="left:7.5px;top:312.5px;"></div><div class="dot" style="left:514.5px;top:312.5px;"></div></div>
<svg width="2300" height="1289" viewBox="0 0 2300 1289"><defs><pattern id="wv" width="48" height="10" patternUnits="userSpaceOnUse"><path d="M0 5 Q6 0 12 0 T24 5 T36 10 T48 5" fill="none" stroke="#fff" stroke-opacity=".02" stroke-width="1.6"/></pattern></defs><rect x="61" y="158.5" width="518" height="317" fill="url(#wv)"/><rect x="61" y="524.5" width="518" height="316" fill="url(#wv)"/><path d="M96.5 172.6 H167.0 L174.3 180.5 H200.5 L206.4 187.4 H437.0 L444.0 180.5 H468.5 L474.3 172.6 H555.0" stroke="#1c4a72" stroke-width="1.6" fill="none"/><path d="M80.0 168 H169.5 L176.8 175.9 H202.9 L208.8 182.8 H434.5 L441.5 175.9 H466.0 L471.8 168 H561.0" stroke="#3fbdd4" stroke-width="2.2" fill="none" stroke-linejoin="round"/><path d="M209.2 194 H230.1" stroke="#3fbdd4" stroke-width="2.2" fill="none"/><path d="M245.5 194 H298.0" stroke="#1b5a70" stroke-width="2.2" fill="none"/><path d="M298.0 194 H304.2" stroke="#3fbdd4" stroke-width="2.2" fill="none"/><path d="M310.5 194 H316.5" stroke="#3fbdd4" stroke-width="2.2" fill="none"/><path d="M334.1 194 H354.5" stroke="#3fbdd4" stroke-width="2.2" fill="none"/><path d="M383.5 194 H398.1" stroke="#3fbdd4" stroke-width="2.2" fill="none"/><path d="M426.0 194 H431.0" stroke="#3fbdd4" stroke-width="2.2" fill="none"/><path d="M96.3 538.2 H166.8 L174.1 546.1 H200.3 L206.2 553.0 H436.8 L443.8 546.1 H468.3 L474.1 538.2 H554.8" stroke="#1c4a72" stroke-width="1.6" fill="none"/><path d="M79.8 533.6 H169.3 L176.6 541.5 H202.7 L208.60000000000002 548.4 H434.3 L441.3 541.5 H465.8 L471.6 533.6 H560.8" stroke="#3fbdd4" stroke-width="2.2" fill="none" stroke-linejoin="round"/><path d="M209.0 559.6 H229.89999999999998" stroke="#3fbdd4" stroke-width="2.2" fill="none"/><path d="M245.3 559.6 H297.8" stroke="#1b5a70" stroke-width="2.2" fill="none"/><path d="M297.8 559.6 H304.0" stroke="#3fbdd4" stroke-width="2.2" fill="none"/><path d="M310.3 559.6 H316.3" stroke="#3fbdd4" stroke-width="2.2" fill="none"/><path d="M333.90000000000003 559.6 H354.3" stroke="#3fbdd4" stroke-width="2.2" fill="none"/><path d="M383.3 559.6 H397.90000000000003" stroke="#3fbdd4" stroke-width="2.2" fill="none"/><path d="M425.8 559.6 H430.8" stroke="#3fbdd4" stroke-width="2.2" fill="none"/>
<path d="M80.7 347.6 H230.8" stroke="#1f5ecb" stroke-width="1.6" fill="none"/>
<path d="M394.5 347.6 H543" stroke="#1f5ecb" stroke-width="1.6" fill="none"/>
<path d="M80.7 450.7 H230.8" stroke="#1f5ecb" stroke-width="1.6" fill="none"/>
<path d="M394.5 450.7 H544" stroke="#1f5ecb" stroke-width="1.6" fill="none"/>
<path d="M79.4 712.1 H229.6" stroke="#1f5ecb" stroke-width="1.6" fill="none"/>
<path d="M393.1 712.1 H542" stroke="#1f5ecb" stroke-width="1.6" fill="none"/>
<path d="M79.4 815.7 H229.6" stroke="#1f5ecb" stroke-width="1.6" fill="none"/>
<path d="M393 815.7 H543" stroke="#1f5ecb" stroke-width="1.6" fill="none"/>
</svg>
<div class="t" style="left:75.5px;top:211.2px;font-size:25.1px;line-height:25.1px;color:#f4f4f6;font-weight:normal;">今日食品安全抽查统计</div>
<div class="t" style="left:75.6px;top:261.9px;font-size:16.8px;line-height:16.8px;color:#e6e6ea;font-weight:normal;">全国抽检批次产品</div>
<div class="t" style="left:395.5px;top:260.6px;font-size:16.7px;line-height:16.7px;color:#e6e6ea;font-weight:normal;">合格批次产品</div>
<div class="t" style="left:76.5px;top:306.7px;font-size:31px;line-height:31px;color:#3b57e6;font-weight:bold;letter-spacing:.2px;">58542</div>
<div class="t" style="left:394.5px;top:303.6px;font-size:31px;line-height:31px;color:#3b57e6;font-weight:bold;letter-spacing:.6px;">41420</div>
<div class="t" style="left:75.6px;top:371.4px;font-size:16.8px;line-height:16.8px;color:#e6e6ea;font-weight:normal;">不合格批次产品</div>
<div class="t" style="left:396.2px;top:368.9px;font-size:16.8px;line-height:16.8px;color:#e6e6ea;font-weight:normal;">合格率</div>
<div class="t" style="left:76.5px;top:406.4px;font-size:31px;line-height:31px;color:#3b57e6;font-weight:bold;letter-spacing:.3px;">1822</div>
<div class="t" style="left:396.0px;top:411.8px;font-size:31px;line-height:31px;color:#f8480c;font-weight:bold;letter-spacing:.4px;">97.23%</div>
<div class="t" style="left:74.3px;top:575.0px;font-size:25.1px;line-height:25.1px;color:#f4f4f6;font-weight:normal;">月累计食品安全抽查统计</div>
<div class="t" style="left:76.0px;top:632.7px;font-size:16.8px;line-height:16.8px;color:#e6e6ea;font-weight:normal;">全国抽检批次产品</div>
<div class="t" style="left:390.2px;top:627.1px;font-size:16.7px;line-height:16.7px;color:#e6e6ea;font-weight:normal;">合格批次产品</div>
<div class="t" style="left:79.0px;top:670.1px;font-size:31px;line-height:31px;color:#3b57e6;font-weight:bold;letter-spacing:.6px;">622600</div>
<div class="t" style="left:388.0px;top:667.0px;font-size:31px;line-height:31px;color:#3b57e6;font-weight:bold;letter-spacing:.6px;">622554</div>
<div class="t" style="left:77.5px;top:742.5px;font-size:16.8px;line-height:16.8px;color:#e6e6ea;font-weight:normal;">不合格批次产品</div>
<div class="t" style="left:384.6px;top:738.2px;font-size:16.7px;line-height:16.7px;color:#e6e6ea;font-weight:normal;">合格率</div>
<div class="t" style="left:77.5px;top:774.5px;font-size:31px;line-height:31px;color:#3b57e6;font-weight:bold;letter-spacing:.8px;">46</div>
<div class="t" style="left:388.0px;top:777.9px;font-size:31px;line-height:31px;color:#f8480c;font-weight:bold;letter-spacing:.5px;">99.99%</div>
<svg width="2300" height="1289" viewBox="0 0 2300 1289">
<path d="M62 866 H571.9 V1135.4 L458.1 1251 H62 Z" stroke="#4a78ac" stroke-width="1.5" fill="none"/>
<path d="M56.2 866 H554.2 V1183.8 L489.4 1251 H56.2 Z" stroke="#1aa0a8" stroke-width="1.3" fill="none"/>
<rect x="112.7" y="873.2" width="423.1" height="6.1" fill="#00c6cf"/>
<rect x="70.5" y="883.4" width="465.3" height="2.4" fill="#00c6cf"/>
<rect x="70.5" y="1231.5" width="375" height="2.4" fill="#00c6cf"/>
<rect x="70.5" y="1237.9" width="375" height="6.1" fill="#00c6cf"/>
<path d="M302.8 1072.1 L302.80 967.90 A104.2 104.2 0 0 1 341.89 975.51 Z" fill="#4e9e91" stroke="rgba(60,60,70,.35)" stroke-width=".6"/>
<path d="M302.8 1072.1 L341.89 975.51 A104.2 104.2 0 0 1 379.78 1001.88 Z" fill="#22bda5" stroke="rgba(60,60,70,.35)" stroke-width=".6"/>
<path d="M302.8 1072.1 L379.78 1001.88 A104.2 104.2 0 0 1 404.27 1048.41 Z" fill="#7ed3a1" stroke="rgba(60,60,70,.35)" stroke-width=".6"/>
<path d="M302.8 1072.1 L404.27 1048.41 A104.2 104.2 0 0 1 325.21 1173.86 Z" fill="#cc6389" stroke="rgba(60,60,70,.35)" stroke-width=".6"/>
<path d="M302.8 1072.1 L325.21 1173.86 A104.2 104.2 0 0 1 200.76 1093.23 Z" fill="#ec8db0" stroke="rgba(60,60,70,.35)" stroke-width=".6"/>
<path d="M302.8 1072.1 L200.76 1093.23 A104.2 104.2 0 0 1 302.80 967.90 Z" fill="#e9afc3" stroke="rgba(60,60,70,.35)" stroke-width=".6"/>
<path d="M323.6 969.2 L354.2 951.8 L371.3 951.8" stroke="#4e9e91" stroke-width="1.2" fill="none"/>
<path d="M362.7 986.2 L378.1 971.6 L396.8 971.6" stroke="#22bda5" stroke-width="1.2" fill="none"/>
<path d="M395.8 1023 L408.7 1015.2 L427.5 1015.2" stroke="#7ed3a1" stroke-width="1.2" fill="none"/>
<path d="M391.7 1128.3 L405.3 1137.1 L423 1137.1" stroke="#cc6389" stroke-width="1.2" fill="none"/>
<path d="M245.9 1159.9 L228.2 1174.6 L211.2 1174.6" stroke="#ec8db0" stroke-width="1.2" fill="none"/>
<path d="M222.1 1006.7 L206.7 995.1 L189 995.1" stroke="#e9afc3" stroke-width="1.2" fill="none"/>
<text x="375.7" y="951.2" font-size="14.3" fill="#c3281d" text-anchor="start" dominant-baseline="central">水产品:6.12%</text>
<text x="400.9" y="970.9" font-size="14.3" fill="#c3281d" text-anchor="start" dominant-baseline="central">蔬菜:7.11%</text>
<text x="431.5" y="1014.2" font-size="14.3" fill="#c3281d" text-anchor="start" dominant-baseline="central">肉制品:8.12%</text>
<text x="427.5" y="1136.1" font-size="14.3" fill="#c3281d" text-anchor="start" dominant-baseline="central">农副产品:25.2%</text>
<text x="206" y="1173.6" font-size="14.3" fill="#c3281d" text-anchor="end" dominant-baseline="central">豆制品:25.2%</text>
<text x="184.6" y="994.1" font-size="14.3" fill="#c3281d" text-anchor="end" dominant-baseline="central">酒类:28.25%</text>
</svg>
<div class="t" style="left:1106.2px;transform:translateX(-50%);top:92.8px;font-size:28.9px;line-height:28.9px;color:#f4f4f4;font-weight:normal;">全国食品安全抽检展示</div>
<svg width="2300" height="1289" viewBox="0 0 2300 1289">
<path d="M1497 615 A429 483 0 0 1 1108 1037" fill="none" stroke="rgba(50,100,150,.085)" stroke-width="7" stroke-dasharray="2.5 3.5"/>
<path d="M688.0 401.0 L692.0 390.0 L704.0 383.0 L713.0 380.0 L716.0 384.0 L723.0 382.0 L729.0 375.0 L740.0 372.0 L746.0 368.0 L760.0 360.0 L769.0 356.0 L774.0 350.0 L774.0 342.0 L780.0 337.0 L780.0 330.0 L777.0 322.0 L775.0 310.0 L770.0 305.6 L784.0 301.0 L795.0 298.0 L803.0 299.0 L800.0 293.0 L802.0 288.0 L805.0 281.0 L808.0 272.0 L811.0 265.6 L820.0 268.0 L829.0 270.0 L836.0 269.6 L844.0 266.0 L843.0 254.0 L844.0 248.0 L850.0 244.0 L856.0 242.0 L859.0 234.0 L863.0 231.6 L872.0 232.0 L874.0 238.0 L877.0 242.0 L880.0 246.0 L888.0 251.0 L896.0 253.0 L902.0 256.0 L907.0 262.0 L910.0 268.0 L913.0 275.0 L912.0 284.0 L913.0 288.0 L910.0 293.0 L912.0 299.0 L920.0 301.6 L932.0 303.0 L942.0 303.0 L950.0 306.0 L958.0 311.0 L964.0 315.6 L970.0 316.4 L973.0 324.0 L976.0 331.0 L980.0 338.0 L983.0 342.0 L993.0 341.6 L1008.0 343.0 L1020.0 344.4 L1032.0 343.6 L1044.0 345.0 L1052.0 347.0 L1058.0 351.0 L1068.0 354.0 L1078.0 357.0 L1088.0 358.0 L1090.0 361.0 L1095.0 361.0 L1106.0 354.0 L1120.0 348.0 L1130.0 345.0 L1144.0 344.0 L1156.0 342.0 L1168.0 335.0 L1176.0 331.0 L1184.0 326.0 L1183.0 322.0 L1178.0 316.0 L1179.0 310.0 L1184.0 305.0 L1192.0 304.0 L1204.0 307.0 L1212.0 304.0 L1221.0 299.0 L1232.0 294.0 L1240.0 290.0 L1244.0 283.0 L1252.0 280.0 L1260.0 277.0 L1270.0 276.0 L1280.0 275.0 L1288.0 272.0 L1287.0 267.0 L1280.0 261.0 L1274.0 256.0 L1268.0 252.4 L1262.0 252.0 L1256.0 255.0 L1250.0 258.0 L1240.0 256.0 L1232.0 250.0 L1235.0 242.0 L1240.0 234.0 L1244.0 226.0 L1248.0 221.0 L1256.0 223.0 L1262.0 224.0 L1270.0 220.0 L1277.0 217.0 L1280.0 210.0 L1282.0 202.0 L1288.0 195.0 L1294.0 187.0 L1299.0 180.0 L1300.0 174.0 L1292.0 171.0 L1289.0 169.0 L1294.0 165.0 L1300.0 161.0 L1310.0 161.0 L1320.0 161.0 L1334.0 160.4 L1346.0 161.0 L1356.0 162.0 L1362.0 166.0 L1368.0 172.0 L1371.0 180.0 L1373.0 188.0 L1378.0 198.0 L1382.0 206.0 L1385.0 214.0 L1389.0 221.0 L1398.0 225.0 L1408.0 228.0 L1416.0 232.0 L1421.0 238.0 L1425.0 246.0 L1428.0 252.0 L1433.0 256.0 L1440.0 257.0 L1448.0 255.0 L1456.0 250.0 L1464.0 247.0 L1474.0 245.0 L1483.0 244.0 L1478.0 250.0 L1477.0 256.0 L1474.0 262.0 L1472.0 270.0 L1469.0 278.0 L1468.0 286.0 L1464.0 294.0 L1460.0 300.0 L1456.0 303.0 L1448.0 300.0 L1440.0 302.0 L1434.0 306.0 L1431.0 310.0 L1433.0 320.0 L1434.0 328.0 L1432.0 334.0 L1426.0 342.0 L1424.0 345.0 L1420.0 340.0 L1416.0 340.0 L1412.0 347.0 L1406.0 352.0 L1400.0 354.9 L1394.8 355.7 L1395.5 360.4 L1392.4 365.9 L1384.6 363.5 L1378.3 359.6 L1373.6 364.3 L1368.9 371.3 L1362.6 376.1 L1356.4 380.8 L1350.1 386.2 L1345.4 390.2 L1342.3 394.9 L1336.0 394.1 L1329.7 396.4 L1323.4 399.6 L1318.7 402.7 L1314.0 405.8 L1309.3 409.0 L1304.6 412.1 L1303.1 409.0 L1306.2 407.4 L1308.6 405.0 L1307.0 402.7 L1304.6 399.6 L1305.4 396.4 L1307.8 394.1 L1310.1 390.9 L1313.3 387.8 L1315.6 384.7 L1317.2 381.5 L1314.8 378.4 L1312.5 375.7 L1307.8 376.1 L1303.1 376.8 L1299.2 380.0 L1296.0 383.9 L1293.7 387.0 L1289.0 389.4 L1285.0 391.7 L1281.9 394.9 L1280.3 398.8 L1277.2 401.9 L1274.1 405.0 L1270.2 408.2 L1265.5 409.0 L1261.5 408.2 L1259.2 412.1 L1259.2 415.2 L1262.3 418.4 L1267.0 420.7 L1271.7 422.3 L1275.6 423.9 L1278.0 427.0 L1278.8 430.1 L1276.4 432.5 L1276.4 435.6 L1279.6 438.0 L1284.3 438.7 L1287.4 436.4 L1290.5 432.5 L1293.7 429.3 L1298.4 427.8 L1303.1 428.6 L1306.2 431.7 L1310.1 432.5 L1314.0 430.9 L1318.7 431.7 L1321.9 434.0 L1323.4 438.0 L1321.9 441.0 L1321.0 440.0 L1314.0 444.0 L1306.0 448.0 L1298.0 454.0 L1292.0 460.0 L1286.0 466.0 L1281.0 473.0 L1279.0 480.0 L1286.0 486.0 L1292.0 494.0 L1295.0 500.0 L1298.0 508.0 L1304.0 516.0 L1308.0 524.0 L1312.0 529.0 L1315.0 534.0 L1311.0 538.0 L1306.0 540.0 L1308.0 546.0 L1314.0 550.0 L1308.0 554.0 L1304.0 555.0 L1310.0 558.0 L1317.0 560.0 L1316.0 568.0 L1314.0 576.0 L1310.0 584.0 L1308.0 592.0 L1304.0 598.0 L1300.0 604.0 L1296.0 610.0 L1292.0 616.0 L1288.0 624.0 L1284.0 632.0 L1285.0 640.0 L1278.0 646.0 L1272.0 654.0 L1266.0 662.0 L1260.0 668.0 L1254.0 674.0 L1248.0 680.0 L1242.0 684.0 L1236.0 688.0 L1228.0 691.0 L1220.0 693.0 L1210.0 698.0 L1200.0 703.0 L1192.0 707.0 L1184.0 709.0 L1176.0 712.0 L1168.0 715.0 L1164.0 720.0 L1166.0 726.0 L1162.0 731.0 L1158.0 729.0 L1155.0 722.0 L1155.0 715.0 L1157.0 709.0 L1150.0 710.0 L1140.0 708.0 L1132.0 707.0 L1124.0 704.0 L1118.0 698.0 L1115.0 690.0 L1112.0 686.0 L1106.0 683.0 L1100.0 680.0 L1096.0 678.0 L1092.0 682.0 L1088.0 685.0 L1080.0 688.0 L1072.0 690.0 L1064.0 691.0 L1058.0 692.0 L1053.0 696.0 L1051.0 704.0 L1052.0 712.0 L1048.0 714.0 L1045.0 709.0 L1040.0 708.0 L1034.0 709.0 L1030.0 704.0 L1028.0 698.0 L1020.0 696.0 L1016.0 688.0 L1015.0 680.0 L1012.0 672.0 L1006.0 666.0 L999.0 664.0 L1000.0 658.0 L998.0 652.0 L1002.0 644.0 L1008.0 636.0 L1013.0 628.0 L1013.6 637.8 L1013.0 626.0 L1013.6 616.0 L1012.0 606.0 L1008.0 598.0 L1004.0 592.0 L998.0 588.0 L993.0 596.0 L986.0 595.0 L976.0 592.0 L970.0 596.0 L962.0 602.0 L954.0 606.0 L948.0 613.0 L940.0 614.0 L930.0 616.0 L927.0 613.0 L923.0 604.0 L918.0 597.0 L910.0 596.0 L902.0 594.0 L895.0 595.0 L892.0 602.0 L888.0 608.0 L886.0 602.0 L884.0 596.0 L878.0 597.0 L868.0 599.0 L858.0 598.0 L850.0 597.0 L846.0 592.0 L838.0 588.0 L832.0 584.0 L826.0 578.0 L820.0 576.0 L816.0 573.0 L808.0 566.0 L800.0 560.0 L792.0 555.0 L788.0 558.0 L781.0 556.0 L774.0 551.0 L766.0 546.0 L759.0 541.0 L756.0 534.0 L753.0 526.0 L753.0 520.0 L761.0 518.0 L762.0 512.0 L759.0 504.0 L755.0 498.0 L757.0 489.0 L751.0 482.0 L748.0 476.0 L742.0 469.0 L732.0 464.0 L723.0 461.0 L719.0 455.0 L716.0 448.0 L710.0 442.0 L703.0 438.0 L705.0 429.0 L704.0 420.0 L700.0 415.0 L692.0 414.0 L690.0 408.0 L688.0 400.0 Z M1141.0 750.0 L1144.0 742.0 L1150.0 736.0 L1158.0 734.0 L1166.0 732.0 L1172.0 735.0 L1172.0 742.0 L1168.0 750.0 L1164.0 757.0 L1158.0 762.0 L1153.0 766.0 L1147.0 764.0 L1142.0 760.0 Z M1309.0 644.0 L1314.0 647.0 L1313.0 654.0 L1311.0 664.0 L1308.0 674.0 L1304.0 684.0 L1301.0 694.0 L1299.0 702.0 L1297.0 698.0 L1294.0 690.0 L1290.0 684.0 L1289.0 676.0 L1292.0 666.0 L1296.0 658.0 L1300.0 652.0 L1304.0 647.0 Z" fill="#e8c063" stroke="#97917f" stroke-width=".9" stroke-linejoin="round"/>
<path d="M1310.0 161.0 L1311.0 165.0 L1306.0 172.0 L1310.0 176.0 L1316.0 174.0 L1320.0 178.0 L1324.0 185.0 L1326.0 192.0 L1332.0 195.0 L1338.0 196.0 L1346.0 194.0 L1352.0 191.0 L1357.0 189.0 L1362.0 193.0 L1367.0 200.0 L1364.0 205.0 L1360.0 210.0 L1357.0 216.0 L1355.0 220.0 L1356.0 226.0 L1353.0 230.0 L1350.0 234.0 L1347.0 242.0 L1345.0 249.0 L1344.0 244.0 L1340.0 246.0 L1334.0 250.0 L1328.0 255.0 L1322.0 260.0 L1320.0 264.0 M1334.0 196.4 L1339.0 204.0 L1342.0 208.4 L1337.4 209.4 L1338.0 213.6 L1345.0 214.4 L1349.0 220.4 L1355.0 220.4 M1320.0 264.0 L1323.0 268.0 L1326.0 273.0 L1334.0 270.0 L1335.0 274.0 L1328.0 276.0 L1329.0 281.0 L1339.0 282.0 L1341.0 290.0 L1346.0 294.0 L1354.0 297.0 L1362.0 297.0 L1368.0 300.0 L1376.0 303.0 L1380.0 308.0 L1384.0 312.0 L1390.0 316.0 L1394.0 313.0 L1398.0 318.0 L1402.0 324.0 L1410.0 322.0 L1416.0 321.0 L1422.0 320.0 L1424.0 326.0 L1430.0 329.0 L1433.0 330.0 M1329.0 281.0 L1320.0 283.0 L1314.0 286.0 L1310.0 290.0 L1315.0 294.0 L1316.0 302.0 L1318.0 310.0 L1319.0 316.0 L1326.0 313.0 L1330.0 316.0 L1332.0 324.0 L1334.0 331.0 L1338.0 332.0 M1338.0 332.0 L1344.0 337.0 L1350.0 336.0 L1353.0 342.0 L1356.0 350.0 L1360.0 362.0 L1362.0 370.0 L1364.0 374.0 M1338.0 332.0 L1334.0 336.0 L1328.0 338.0 L1320.0 340.0 L1314.0 342.0 L1308.0 345.0 L1302.0 348.0 L1296.0 350.0 L1292.0 354.0 L1290.0 360.0 L1286.0 356.0 L1282.0 350.0 L1279.0 354.0 L1280.0 362.0 L1278.0 367.0 L1274.0 372.0 M1274.0 372.0 L1276.0 378.0 L1282.0 380.0 L1284.0 386.0 L1285.0 392.0 L1286.4 395.6 M1274.0 372.0 L1270.0 366.0 L1266.0 365.0 L1265.0 358.0 L1267.0 354.0 L1264.0 350.0 L1262.0 346.0 L1256.0 345.0 L1249.0 348.0 L1248.0 354.0 L1242.0 358.0 L1232.0 361.0 L1223.0 362.0 L1222.0 354.0 L1216.0 354.0 L1214.0 360.0 L1210.0 365.0 L1209.0 370.0 M931.0 405.0 L920.0 409.0 L910.0 413.0 L902.0 417.0 L907.0 422.0 L908.0 430.0 L913.0 435.0 L917.0 440.0 L910.0 444.0 L910.0 449.0 L914.0 453.0 L913.0 457.0 L900.0 455.6 L895.0 459.0 M895.0 459.0 L892.0 458.0 L884.0 452.0 L878.0 450.4 L868.0 452.0 L860.0 454.0 L852.0 456.0 L850.0 461.0 L844.0 463.0 L836.0 466.0 L828.0 469.0 L820.0 470.0 L810.0 468.0 L804.0 464.0 L798.0 468.0 L792.0 471.0 L784.0 469.0 L776.0 470.0 L773.0 476.0 L770.0 482.0 L768.0 486.0 L757.0 488.0 M895.0 459.0 L897.0 466.0 L894.0 472.0 L897.0 480.0 L898.0 488.0 L896.0 494.0 L900.0 500.0 L905.0 505.0 L912.0 508.0 L920.0 511.0 L928.0 514.0 L936.0 516.0 L944.0 519.0 L952.0 518.0 L960.0 517.0 L966.0 522.0 L970.0 528.0 L974.0 532.0 L980.0 534.0 L982.0 530.0 L988.0 529.0 L994.0 526.0 L996.0 520.0 L998.0 518.0 M981.5 343.3 L978.4 347.2 L979.1 353.5 L973.7 357.4 L969.0 359.0 L965.8 362.9 L959.6 366.8 L953.3 370.7 L950.1 375.4 L947.8 379.4 L939.2 380.1 L936.8 386.4 L935.3 394.3 L932.9 400.5 L930.6 404.9 M993.6 342.2 L995.6 348.0 L998.7 355.9 L1002.6 362.1 L998.7 366.0 L1003.4 371.5 L1008.1 375.4 L1008.9 380.1 L1015.2 377.0 L1020.7 375.4 L1028.5 373.9 L1033.2 377.0 L1032.4 383.3 L1029.3 388.0 L1025.4 391.1 L1022.2 392.7 L1026.9 393.5 L1031.6 396.6 L1036.3 399.7 L1041.0 402.1 L1042.6 406.8 L1046.5 409.1 L1050.4 412.3 L1054.4 411.5 L1054.4 406.0 L1059.8 405.2 L1066.1 402.9 L1072.4 401.3 L1078.7 399.7 L1082.6 400.5 L1084.1 406.8 L1081.8 411.5 L1077.1 414.6 L1074.0 419.3 L1074.7 425.6 L1078.7 427.9 L1088.1 431.9 L1095.9 431.9 L1102.2 430.3 L1104.5 425.6 L1105.3 417.8 L1106.9 409.9 L1110.0 403.7 L1118.1 401.3 M1118.1 401.3 L1120.2 406.0 L1118.6 410.7 L1115.5 415.4 L1115.0 419.6 L1119.4 422.8 L1124.4 425.3 L1128.0 430.3 L1129.1 434.7 L1125.7 439.7 L1119.4 439.7 L1114.7 442.8 L1113.9 449.1 L1114.7 455.4 L1113.9 464.8 L1113.1 470.3 M1088.1 431.9 L1086.5 438.1 L1092.0 439.7 L1096.7 442.8 L1099.0 449.1 L1100.6 455.4 L1102.9 462.4 L1106.1 467.1 L1109.2 469.5 L1113.1 470.3 M1125.7 439.7 L1133.5 446.8 L1139.8 450.4 L1142.9 455.4 L1142.1 460.9 L1139.8 466.3 L1131.9 469.5 L1130.4 473.4 L1124.1 475.0 L1119.4 474.2 L1114.7 478.9 L1113.1 484.4 L1116.0 488.3 L1114.7 494.6 L1110.0 500.8 L1105.3 507.1 L1106.9 512.6 L1100.6 513.4 M1124.4 425.3 L1128.8 428.7 L1133.5 430.3 L1142.1 430.3 L1143.7 424.0 L1146.0 419.3 L1150.7 411.5 L1157.0 405.2 L1161.7 400.5 L1166.4 401.3 L1169.6 399.0 L1174.3 398.2 M930.6 404.9 L940.7 405.2 L942.3 408.4 L950.1 409.9 L958.0 413.1 L961.1 417.8 L970.5 419.3 L979.9 421.7 L987.0 419.3 L990.1 411.5 L990.9 404.4 L997.2 406.0 L1003.4 408.4 L1008.1 407.6 L1012.8 405.2 L1017.5 408.4 L1023.8 414.6 L1030.1 420.9 L1036.3 424.0 L1047.3 428.7 L1056.7 433.4 L1061.4 439.7 L1064.6 446.0 L1066.1 453.8 L1064.6 460.1 L1063.0 466.3 L1058.3 471.0 L1056.7 477.3 L1054.4 482.0 L1056.7 486.7 L1050.4 488.3 L1041.0 487.5 L1040.3 491.4 L1047.3 496.1 L1054.4 499.3 M1054.4 499.3 L1052.8 504.7 L1048.9 507.9 L1045.7 511.8 L1041.0 510.2 L1037.9 516.5 L1033.2 518.1 L1028.5 514.9 L1025.4 510.2 L1020.7 508.7 L1016.0 502.4 L1012.8 496.1 L1008.1 491.4 L1001.9 489.8 L997.2 494.6 L996.4 499.3 L998.7 504.0 L997.2 510.2 L995.6 518.1 M1054.4 499.3 L1056.7 493.0 L1066.1 488.3 L1070.0 493.0 L1077.1 496.9 L1083.4 500.8 L1086.5 505.5 L1087.3 511.8 L1090.4 516.5 L1095.1 517.3 L1100.6 513.4 M1100.6 513.4 L1108.4 511.8 L1119.4 518.1 L1127.2 522.8 L1135.1 524.3 L1139.8 529.0 L1144.5 532.0 M1211.4 379.1 L1203.4 382.5 L1196.6 383.6 L1189.8 387.0 L1185.3 392.7 L1181.9 397.2 L1174.0 398.0 L1171.7 400.6 L1173.4 404.0 L1169.5 407.4 L1167.2 413.0 L1165.5 419.8 L1166.1 424.4 L1167.8 428.9 L1166.6 435.7 L1164.4 440.2 L1164.9 447.0 L1166.6 453.8 L1167.2 460.6 L1165.5 466.3 L1164.4 472.0 L1162.7 478.8 L1163.2 483.3 M1163.2 483.3 L1169.5 481.0 L1176.3 478.8 L1183.0 475.4 L1187.6 472.0 L1193.2 472.5 L1198.9 470.8 L1203.4 467.4 L1205.7 464.0 L1206.3 459.5 L1206.8 453.8 M1206.8 453.8 L1204.6 448.2 L1206.3 442.5 L1208.0 436.8 L1209.7 431.2 L1208.0 426.6 L1206.3 422.1 L1205.7 417.6 L1208.0 411.9 L1210.2 408.5 L1214.8 405.1 L1218.2 398.3 L1217.0 392.7 L1213.6 391.5 L1211.4 389.3 L1213.6 384.7 L1214.8 381.3 L1212.5 376.8 L1211.4 373.4 L1209.1 370.0 M1244.2 371.7 L1248.8 375.7 L1256.7 379.1 L1254.4 385.9 L1253.3 392.7 L1248.8 396.1 L1242.0 397.2 L1236.3 394.9 L1230.6 391.0 L1230.6 387.0 L1235.2 382.5 L1239.7 376.8 L1244.2 371.7 M1253.9 392.1 L1259.0 393.2 L1264.1 397.2 L1264.6 402.9 L1261.8 407.4 L1262.9 413.6 M1253.9 392.1 L1252.7 401.7 L1254.4 408.5 L1257.8 413.6 L1261.8 419.8 M1261.8 419.8 L1257.8 424.4 L1252.2 426.6 L1246.5 428.9 L1242.0 433.4 L1238.6 438.0 L1235.2 442.5 L1231.8 447.0 L1229.5 451.6 L1230.6 456.1 L1229.5 460.6 M1206.8 453.8 L1212.5 455.5 L1219.3 457.2 L1225.0 456.1 L1229.5 460.6 L1234.0 459.5 L1238.6 456.7 L1235.2 461.8 L1230.6 464.0 L1228.4 466.3 M1228.4 466.3 L1226.1 469.7 L1223.8 473.1 L1222.7 476.5 L1227.2 477.6 L1230.6 482.2 L1236.3 483.3 L1240.8 483.3 M1240.8 483.3 L1243.1 478.8 L1247.6 477.6 L1250.5 481.0 L1252.2 484.4 L1256.7 483.3 L1260.1 482.2 L1264.6 486.7 L1268.0 484.4 L1270.3 479.9 L1274.8 476.5 L1279.3 475.4 M1240.8 483.3 L1244.2 487.8 L1248.8 490.1 L1252.2 492.4 L1256.7 493.5 L1260.1 496.9 L1264.6 498.0 L1263.5 503.7 L1264.6 505.9 M1240.8 483.3 L1239.7 487.8 L1242.0 492.4 L1236.3 491.8 L1232.9 493.5 L1230.6 498.0 L1231.8 502.5 L1227.2 504.8 L1225.0 509.3 L1223.8 516.0 M1163.2 483.3 L1164.9 489.0 L1167.2 494.6 L1169.5 500.3 L1171.7 505.9 L1167.2 507.6 L1161.5 507.1 L1154.7 505.9 L1152.5 508.8 L1157.0 511.6 L1161.5 516.0 M1171.7 505.9 L1175.1 511.6 L1178.5 516.0 M1005.1 520.0 L1009.0 526.3 L1012.9 534.1 L1015.3 543.5 L1016.8 551.3 L1017.6 560.7 L1018.4 568.6 L1017.6 576.4 L1017.6 581.1 L1013.7 585.8 L1011.3 591.3 M1017.6 581.1 L1020.0 589.7 L1021.5 593.7 L1023.9 587.4 L1026.2 582.7 L1030.1 587.4 L1033.3 593.7 L1034.9 598.4 L1038.8 600.7 L1041.1 606.2 L1044.3 612.5 L1047.4 618.7 L1050.5 625.0 L1053.7 629.7 L1058.4 628.1 L1063.1 625.0 L1066.2 620.3 L1067.8 614.0 L1070.1 607.8 L1073.2 601.5 L1075.6 595.2 L1078.7 592.1 M1078.7 592.1 L1076.4 598.4 L1080.3 604.6 L1081.9 609.3 L1077.2 612.5 L1078.7 618.7 L1083.4 621.9 L1088.1 625.0 L1089.7 629.7 L1086.6 636.0 L1089.7 642.2 L1092.8 645.4 L1089.7 650.1 L1088.1 654.8 L1092.8 657.9 M1092.8 657.9 L1097.5 661.0 L1103.8 665.7 L1108.5 670.4 L1105.4 675.1 L1100.7 676.7 L1098.3 679.1 M1092.8 657.9 L1096.0 650.1 L1102.2 651.6 L1108.5 650.1 L1113.2 645.4 L1119.5 642.2 L1122.6 637.5 L1127.3 643.8 L1133.6 645.4 L1136.7 640.7 L1143.0 639.1 L1147.7 636.0 L1152.4 632.8 M1152.4 632.8 L1150.8 629.7 L1152.4 623.4 L1150.8 617.2 L1146.1 612.5 L1149.3 607.8 L1152.4 603.1 L1150.0 596.8 L1148.5 589.0 L1150.0 582.7 L1149.3 573.3 M1149.3 573.3 L1143.0 582.7 L1139.8 587.4 L1136.7 579.6 L1132.0 577.2 L1127.3 578.0 L1125.7 582.7 L1121.0 581.1 L1116.3 584.3 L1113.2 589.0 L1106.9 587.4 L1102.2 589.0 L1105.4 595.2 L1110.1 596.8 L1110.9 601.5 L1103.8 601.5 L1097.5 599.9 L1096.8 595.2 L1092.8 598.4 L1086.6 596.8 L1088.1 590.5 L1086.6 585.8 L1080.3 586.6 L1078.7 592.1 M1102.2 589.0 L1099.1 582.7 L1101.5 576.4 L1099.1 571.7 L1103.8 567.0 L1105.4 560.7 L1103.8 556.8 L1110.1 554.5 L1117.9 553.7 L1125.7 551.3 L1127.3 546.6 L1133.6 540.4 L1136.7 534.1 L1139.8 527.8 L1138.3 523.1 L1136.7 520.0 M1149.3 573.3 L1146.1 568.6 L1148.5 563.9 L1152.4 556.0 L1158.7 549.8 L1161.8 543.5 L1158.7 537.2 L1155.5 529.4 L1154.0 523.1 L1152.4 520.0 M1149.3 573.3 L1154.0 567.0 L1161.8 565.4 L1166.5 561.5 L1172.8 560.7 L1179.0 563.9 L1185.3 567.0 L1191.6 570.1 L1197.8 567.0 L1205.7 565.4 L1207.2 571.7 L1208.8 578.0 L1213.5 576.4 M1213.5 576.4 L1219.8 573.3 L1226.0 568.6 L1233.9 565.4 L1238.6 563.9 L1237.0 557.6 L1235.4 551.3 L1237.0 545.1 L1232.3 540.4 L1229.2 535.7 L1224.5 532.5 L1216.6 531.0 L1211.9 527.8 L1208.8 523.1 L1207.2 520.0 M1213.5 576.4 L1211.9 582.7 L1213.5 589.0 L1210.4 593.7 L1207.2 598.4 L1205.7 604.6 L1207.2 612.5 L1210.4 618.7 L1211.9 628.1 L1210.4 636.0 L1208.8 642.2 M1152.4 632.8 L1158.7 628.1 L1163.4 629.7 L1168.1 626.6 L1174.3 625.0 L1175.9 631.3 L1179.0 634.4 L1175.9 639.1 L1172.8 645.4 L1177.5 648.5 L1182.2 653.2 M1182.2 653.2 L1185.3 650.1 L1186.9 645.4 L1193.1 645.4 L1196.3 646.9 L1199.4 643.8 L1204.1 640.7 L1208.8 642.2 M1182.2 653.2 L1185.3 657.9 L1183.7 664.2 L1180.6 670.4 L1177.5 676.7 L1179.0 683.0 L1175.9 687.7 L1171.2 692.4 L1168.1 697.1 L1160.2 704.9 L1157.1 711.2 L1157.9 715.9 M1208.8 642.2 L1215.1 645.4 L1213.5 651.6 L1216.6 656.3 L1224.5 654.8 L1230.7 653.2 L1234.7 650.9 M1234.7 650.9 L1237.0 643.8 L1238.6 636.0 L1241.7 629.7 L1243.3 621.9 L1244.8 617.2 L1249.6 614.0 L1255.8 610.9 L1262.1 607.8 L1269.9 605.4 L1274.6 604.6 M1234.7 650.9 L1240.1 653.2 L1246.4 656.3 L1249.6 664.2 L1251.1 670.4 M1274.6 604.6 L1277.8 609.3 L1284.0 607.8 L1287.2 610.9 L1291.9 610.1 M1274.6 604.6 L1271.5 598.4 L1273.1 592.1 L1268.4 587.4 L1265.2 581.1 L1262.1 574.9 L1255.8 573.3 L1249.6 571.7 L1244.8 567.0 L1238.6 563.9 M1265.2 581.1 L1269.9 576.4 L1276.2 573.3 L1280.9 567.0 L1285.6 560.7 L1291.9 557.6 L1295.0 551.3 L1299.7 546.6 L1306.0 543.5" fill="none" stroke="#6f7076" stroke-width="1.05" stroke-linejoin="round"/>
<rect x="1366.5" y="648.6" width="78.6" height="114.7" fill="none" stroke="#7f796b" stroke-width="2"/>
<path d="M1367.4 649.2 L1416.8 649.2 L1405.2 656.2 L1392.4 660.8 L1384.2 663.2 L1374.9 662.6 L1367.4 654.4 Z M1430.8 649.2 L1439.0 649.2 L1435.5 658.5 Z M1383.1 667.8 L1390.1 666.3 L1386.0 675.4 L1379.6 677.5 Z" fill="#b39a52"/>
<path d="M1442.4 657.4 L1438.4 664.3" stroke="#b39a52" stroke-width="1.6" fill="none"/>
<path d="M1434.9 670.2 L1430.2 676.6" stroke="#b39a52" stroke-width="1.6" fill="none"/>
<path d="M1430.2 683.6 L1430.2 692.3" stroke="#b39a52" stroke-width="2.6" fill="none"/>
<path d="M1430.8 704.5 L1425.6 712.1" stroke="#b39a52" stroke-width="2.2" fill="none"/>
<path d="M1420.3 725.5 L1412.2 736.5" stroke="#b39a52" stroke-width="1.8" fill="none"/>
<path d="M1404.6 746.4 L1393.0 751.1" stroke="#b39a52" stroke-width="1.6" fill="none"/>
<path d="M1374.3 727.8 L1376.7 735.4" stroke="#b39a52" stroke-width="1.8" fill="none"/>
<path d="M1388.3 706.8 L1380.7 714.4" stroke="#b39a52" stroke-width="1.6" fill="none"/>
<path d="M1381.0 688.2 L1384.2 696.4" stroke="#b39a52" stroke-width="1.8" fill="none"/>
<path d="M1313.8 704.9 L1304.1 720.4" stroke="#bfa766" stroke-width="1.1" fill="none" stroke-opacity=".8"/>
<path d="M1288.6 751.4 L1282.0 768.9" stroke="#bfa766" stroke-width="1.1" fill="none" stroke-opacity=".8"/>
<path d="M1276.1 801.8 L1276.1 823.2" stroke="#bfa766" stroke-width="1.1" fill="none" stroke-opacity=".8"/>
<path d="M1275.0 871.7 L1268.4 896.9" stroke="#bfa766" stroke-width="1.1" fill="none" stroke-opacity=".8"/>
<path d="M1240.1 941.5 L1230.4 957.0" stroke="#bfa766" stroke-width="1.1" fill="none" stroke-opacity=".8"/>
<path d="M1150.1 799.9 L1156.7 817.3" stroke="#bfa766" stroke-width="1.1" fill="none" stroke-opacity=".8"/>
<path d="M1163.7 867.8 L1160.6 886.4" stroke="#bfa766" stroke-width="1.1" fill="none" stroke-opacity=".8"/>
<path d="M1135.3 957.0 L1137.3 976.4" stroke="#bfa766" stroke-width="1.1" fill="none" stroke-opacity=".8"/>
<path d="M1154.0 951.2 L1159.8 943.4" stroke="#bfa766" stroke-width="1.1" fill="none" stroke-opacity=".8"/>
<path d="M1216.8 891.0 L1221.8 886.4" stroke="#bfa766" stroke-width="1.1" fill="none" stroke-opacity=".8"/>
<path d="M1179.9 799.1 L1185.8 797.6" stroke="#bfa766" stroke-width="1.1" fill="none" stroke-opacity=".8"/>
<path d="M1188.9 803.8 L1193.5 802.2" stroke="#bfa766" stroke-width="1.1" fill="none" stroke-opacity=".8"/>
<path d="M1242.8 900.7 L1245.1 899.2" stroke="#bfa766" stroke-width="1.1" fill="none" stroke-opacity=".8"/>
<path d="M1251.7 895.7 L1254.8 893.8" stroke="#bfa766" stroke-width="1.1" fill="none" stroke-opacity=".8"/>
<path d="M1235.4 912.4 L1237.0 910.4" stroke="#bfa766" stroke-width="1.1" fill="none" stroke-opacity=".8"/>
<path d="M1226.5 935.7 L1228.4 933.7" stroke="#bfa766" stroke-width="1.1" fill="none" stroke-opacity=".8"/>
<path d="M1209.8 926.0 L1211.4 928.7" stroke="#bfa766" stroke-width="1.1" fill="none" stroke-opacity=".8"/>
<path d="M1245.9 722.3 L1248.6 723.9" stroke="#bfa766" stroke-width="1.1" fill="none" stroke-opacity=".8"/>
<path d="M1333.2 633.1 L1335.5 631.5" stroke="#bfa766" stroke-width="1.1" fill="none" stroke-opacity=".8"/>
<path d="M1209.8 946.5 L1216.0 941.9 L1218.3 944.2 L1212.9 949.6 Z" fill="#d0b25e"/>
</svg>
<svg width="2300" height="1289" viewBox="0 0 2300 1289"><defs><linearGradient id="sg" gradientUnits="userSpaceOnUse" x1="1068" y1="0" x2="1491" y2="0"><stop offset="0" stop-color="rgb(81,167,58)" stop-opacity=".365"/><stop offset=".25" stop-color="rgb(60,132,62)" stop-opacity=".35"/><stop offset=".55" stop-color="rgb(33,80,60)" stop-opacity=".335"/><stop offset=".8" stop-color="rgb(20,60,62)" stop-opacity=".21"/><stop offset="1" stop-color="rgb(10,40,60)" stop-opacity=".07"/></linearGradient></defs><path d="M1068.3 555.3 L1482.1 654.4 A423 477 0 0 1 1182.8 1014.4 Z" fill="url(#sg)"/></svg>
<svg width="2300" height="1289" viewBox="0 0 2300 1289">
<text x="1393.7" y="243.1" font-size="14.4" fill="#fbf7ea" text-anchor="middle" dominant-baseline="central">黑龙江省</text>
<text x="1180.1" y="297.5" font-size="14.4" fill="#fbf7ea" text-anchor="middle" dominant-baseline="central">内蒙古自治区</text>
<text x="1371.8" y="327.2" font-size="14.4" fill="#fbf7ea" text-anchor="middle" dominant-baseline="central">吉林省</text>
<text x="834.9" y="359.3" font-size="14.4" fill="#fbf7ea" text-anchor="middle" dominant-baseline="central">新疆维吾尔自治区</text>
<text x="1317.8" y="370.2" font-size="14.4" fill="#fbf7ea" text-anchor="middle" dominant-baseline="central">辽宁省</text>
<text x="1242.5" y="385.3" font-size="14.4" fill="#fbf7ea" text-anchor="middle" dominant-baseline="central">北京市</text>
<text x="1243.5" y="400.3" font-size="14.4" fill="#fbf7ea" text-anchor="middle" dominant-baseline="central">河北省</text>
<text x="1255.3" y="400.3" font-size="14.4" fill="#fbf7ea" text-anchor="middle" dominant-baseline="central">天津市</text>
<text x="1189.9" y="429.7" font-size="14.4" fill="#fbf7ea" text-anchor="middle" dominant-baseline="central">山西省</text>
<text x="1036.9" y="428.5" font-size="14.4" fill="#fbf7ea" text-anchor="middle" dominant-baseline="central">甘肃省</text>
<text x="1106.8" y="435.6" font-size="14.4" fill="#fbf7ea" text-anchor="middle" dominant-baseline="central">宁夏回族自治区</text>
<text x="1272.1" y="452" font-size="14.4" fill="#fbf7ea" text-anchor="middle" dominant-baseline="central">山东省</text>
<text x="981" y="468.8" font-size="14.4" fill="#fbf7ea" text-anchor="middle" dominant-baseline="central">青海省</text>
<text x="1137.5" y="463" font-size="14.4" fill="#fbf7ea" text-anchor="middle" dominant-baseline="central">陕西省</text>
<text x="1204" y="494.3" font-size="14.4" fill="#fbf7ea" text-anchor="middle" dominant-baseline="central">河南省</text>
<text x="884.4" y="533.4" font-size="14.4" fill="#fbf7ea" text-anchor="middle" dominant-baseline="central">西藏自治区</text>
<text x="1188" y="542" font-size="14.4" fill="#fbf7ea" text-anchor="middle" dominant-baseline="central">湖北省</text>
<text x="1306.9" y="540.4" font-size="14.4" fill="#fbf7ea" text-anchor="middle" dominant-baseline="central">上海市</text>
<text x="1283" y="514" font-size="14.4" fill="#fbf7ea" text-anchor="middle" dominant-baseline="central">江苏省</text>
<text x="1262" y="530" font-size="14.4" fill="#fbf7ea" text-anchor="middle" dominant-baseline="central">安徽省</text>
<text x="1068.4" y="558.4" font-size="14.4" fill="#fbf7ea" text-anchor="middle" dominant-baseline="central">四川省</text>
<text x="1130" y="557.6" font-size="14.4" fill="#fbf7ea" text-anchor="middle" dominant-baseline="central">重庆市</text>
<text x="1291.7" y="576" font-size="14.4" fill="#fbf7ea" text-anchor="middle" dominant-baseline="central">浙江省</text>
<text x="1115.3" y="615.1" font-size="14.4" fill="#c9dccb" text-anchor="middle" dominant-baseline="central">贵州省</text>
<text x="1178.6" y="607.7" font-size="14.4" fill="#c9dccb" text-anchor="middle" dominant-baseline="central">湖南省</text>
<text x="1237.4" y="608.1" font-size="14.4" fill="#c9dccb" text-anchor="middle" dominant-baseline="central">江西省</text>
<text x="1264.9" y="631.6" font-size="14.4" fill="#c9dccb" text-anchor="middle" dominant-baseline="central">福建省</text>
<text x="1054" y="646" font-size="14.4" fill="#fbf7ea" text-anchor="middle" dominant-baseline="central">云南省</text>
<text x="1136.2" y="667.4" font-size="14.4" fill="#c9dccb" text-anchor="middle" dominant-baseline="central">广西壮族自治区</text>
<text x="1309.7" y="667.4" font-size="14.4" fill="#c0cdc4" text-anchor="middle" dominant-baseline="central">台湾省</text>
<text x="1366.1" y="648" font-size="14.4" fill="#c8cfd0" text-anchor="middle" dominant-baseline="central">南海诸岛</text>
<text x="1204.1" y="683.8" font-size="14.4" fill="#c9dccb" text-anchor="middle" dominant-baseline="central">广东省</text>
<text x="1213.3" y="692.4" font-size="14.4" fill="#c9dccb" text-anchor="middle" dominant-baseline="central">香港特别行政区</text>
<text x="1204.7" y="697.4" font-size="14.4" fill="#c9dccb" text-anchor="middle" dominant-baseline="central">澳门特别行政区</text>
<text x="1197.9" y="841.3" font-size="14.4" fill="#c9dccb" text-anchor="middle" dominant-baseline="central">海南省</text>
<circle cx="1332.7" cy="359.3" r="6.9" fill="#f6f5f3"/>
<circle cx="1252.5" cy="405.1" r="6.9" fill="#f6f5f3"/>
<circle cx="1217.3" cy="423.8" r="6.9" fill="#f6f5f3"/>
<circle cx="1079.2" cy="457.9" r="6.9" fill="#f6f5f3"/>
<circle cx="1082.5" cy="551.2" r="6.9" fill="#f6f5f3"/>
<circle cx="915.2" cy="568.7" r="6.9" fill="#f6f5f3"/>
<circle cx="1065.3" cy="648" r="6.9" fill="#f6f5f3"/>
<circle cx="1279.1" cy="630.3" r="6.9" fill="#b9cbc3"/>
<circle cx="1206" cy="480" r="23" fill="rgba(255,255,255,.17)"/><circle cx="1206" cy="480" r="17.3" fill="rgba(255,255,255,.33)"/><circle cx="1206" cy="480" r="10.6" fill="#f6f5f3"/>
</svg>
<div style="position:absolute;left:1231px;top:504px;width:77px;height:34px;border-radius:4.5px;background:#010101;"></div>
<div class="t" style="left:1269.5px;transform:translateX(-50%);top:513.5px;font-size:14.6px;line-height:15px;color:#f40000;">郑州:3552</div>
<div class="t" style="left:1058.0px;transform:translateX(-50%);top:920.0px;font-size:24px;line-height:24px;color:#f4f4f4;font-weight:normal;">月合格统计</div>
<svg width="2300" height="1289" viewBox="0 0 2300 1289">
<path d="M701.4 984.1 V1222.4" stroke="#d4d4d8" stroke-width="1.3" fill="none"/>
<path d="M694.9 1222.4 H1498.8" stroke="#d4d4d8" stroke-width="1.3" fill="none"/>
<path d="M694.9 1222.4 H701.4" stroke="#d4d4d8" stroke-width="1.3"/>
<text x="690.4" y="1222.9" font-size="16.2" fill="#e2e2e6" text-anchor="end" dominant-baseline="central">0</text>
<path d="M694.9 1174.7 H701.4" stroke="#d4d4d8" stroke-width="1.3"/>
<text x="690.4" y="1175.2" font-size="16.2" fill="#e2e2e6" text-anchor="end" dominant-baseline="central">100</text>
<path d="M694.9 1127.1 H701.4" stroke="#d4d4d8" stroke-width="1.3"/>
<text x="690.4" y="1127.6" font-size="16.2" fill="#e2e2e6" text-anchor="end" dominant-baseline="central">200</text>
<path d="M694.9 1079.4 H701.4" stroke="#d4d4d8" stroke-width="1.3"/>
<text x="690.4" y="1079.9" font-size="16.2" fill="#e2e2e6" text-anchor="end" dominant-baseline="central">300</text>
<path d="M694.9 1031.8 H701.4" stroke="#d4d4d8" stroke-width="1.3"/>
<text x="690.4" y="1032.3" font-size="16.2" fill="#e2e2e6" text-anchor="end" dominant-baseline="central">400</text>
<path d="M694.9 984.1 H701.4" stroke="#d4d4d8" stroke-width="1.3"/>
<text x="690.4" y="984.6" font-size="16.2" fill="#e2e2e6" text-anchor="end" dominant-baseline="central">500</text>
<path d="M767.9 1222.4 v6" stroke="#d4d4d8" stroke-width="1.3"/>
<rect x="716.6" y="1062.6" width="36" height="159.0" rx="9.5" ry="9.5" fill="#83b9ee"/>
<text x="734.6" y="1048.4" font-size="16.8" fill="#e2e2e6" text-anchor="middle" dominant-baseline="central" letter-spacing="-.3">335.2</text>
<text x="734.6" y="1238.8" font-size="14" fill="#e2e2e6" text-anchor="middle" dominant-baseline="central">一月</text>
<path d="M834.3 1222.4 v6" stroke="#d4d4d8" stroke-width="1.3"/>
<rect x="783.1" y="1110.2" width="36" height="111.4" rx="9.5" ry="9.5" fill="#83b9ee"/>
<text x="801.1" y="1096.0" font-size="16.8" fill="#e2e2e6" text-anchor="middle" dominant-baseline="central" letter-spacing="-.3">235.5</text>
<text x="801.1" y="1238.8" font-size="14" fill="#e2e2e6" text-anchor="middle" dominant-baseline="central">二月</text>
<path d="M900.8 1222.4 v6" stroke="#d4d4d8" stroke-width="1.3"/>
<rect x="849.5" y="1147.9" width="36" height="73.7" rx="9.5" ry="9.5" fill="#83b9ee"/>
<text x="867.5" y="1133.7" font-size="16.8" fill="#e2e2e6" text-anchor="middle" dominant-baseline="central" letter-spacing="-.3">156.3</text>
<text x="867.5" y="1238.8" font-size="14" fill="#e2e2e6" text-anchor="middle" dominant-baseline="central">三月</text>
<path d="M967.2 1222.4 v6" stroke="#d4d4d8" stroke-width="1.3"/>
<rect x="916.0" y="1163.5" width="36" height="58.1" rx="9.5" ry="9.5" fill="#83b9ee"/>
<text x="934.0" y="1149.3" font-size="16.8" fill="#e2e2e6" text-anchor="middle" dominant-baseline="central" letter-spacing="-.3">123.5</text>
<text x="934.0" y="1238.8" font-size="14" fill="#e2e2e6" text-anchor="middle" dominant-baseline="central">四月</text>
<path d="M1033.7 1222.4 v6" stroke="#d4d4d8" stroke-width="1.3"/>
<rect x="982.4" y="1010.3" width="36" height="211.3" rx="9.5" ry="9.5" fill="#83b9ee"/>
<text x="1000.4" y="996.1" font-size="16.8" fill="#e2e2e6" text-anchor="middle" dominant-baseline="central" letter-spacing="-.3">445</text>
<text x="1000.4" y="1238.8" font-size="14" fill="#e2e2e6" text-anchor="middle" dominant-baseline="central">五月</text>
<path d="M1100.1 1222.4 v6" stroke="#d4d4d8" stroke-width="1.3"/>
<rect x="1048.9" y="1067.9" width="36" height="153.7" rx="9.5" ry="9.5" fill="#83b9ee"/>
<text x="1066.9" y="1053.7" font-size="16.8" fill="#e2e2e6" text-anchor="middle" dominant-baseline="central" letter-spacing="-.3">324.2</text>
<text x="1066.9" y="1238.8" font-size="14" fill="#e2e2e6" text-anchor="middle" dominant-baseline="central">六月</text>
<path d="M1166.5 1222.4 v6" stroke="#d4d4d8" stroke-width="1.3"/>
<rect x="1115.3" y="1163.6" width="36" height="58.0" rx="9.5" ry="9.5" fill="#83b9ee"/>
<text x="1133.3" y="1149.4" font-size="16.8" fill="#e2e2e6" text-anchor="middle" dominant-baseline="central" letter-spacing="-.3">123.3</text>
<text x="1133.3" y="1238.8" font-size="14" fill="#e2e2e6" text-anchor="middle" dominant-baseline="central">七月</text>
<path d="M1233.0 1222.4 v6" stroke="#d4d4d8" stroke-width="1.3"/>
<rect x="1181.8" y="1112.1" width="36" height="109.5" rx="9.5" ry="9.5" fill="#83b9ee"/>
<text x="1199.8" y="1097.9" font-size="16.8" fill="#e2e2e6" text-anchor="middle" dominant-baseline="central" letter-spacing="-.3">231.4</text>
<text x="1199.8" y="1238.8" font-size="14" fill="#e2e2e6" text-anchor="middle" dominant-baseline="central">八月</text>
<path d="M1299.5 1222.4 v6" stroke="#d4d4d8" stroke-width="1.3"/>
<rect x="1248.2" y="1054.5" width="36" height="167.1" rx="9.5" ry="9.5" fill="#83b9ee"/>
<text x="1266.2" y="1040.3" font-size="16.8" fill="#e2e2e6" text-anchor="middle" dominant-baseline="central" letter-spacing="-.3">352.3</text>
<text x="1266.2" y="1238.8" font-size="14" fill="#e2e2e6" text-anchor="middle" dominant-baseline="central">九月</text>
<path d="M1365.9 1222.4 v6" stroke="#d4d4d8" stroke-width="1.3"/>
<rect x="1314.7" y="1016.5" width="36" height="205.1" rx="9.5" ry="9.5" fill="#83b9ee"/>
<text x="1332.7" y="1002.3" font-size="16.8" fill="#e2e2e6" text-anchor="middle" dominant-baseline="central" letter-spacing="-.3">432.1</text>
<text x="1332.7" y="1238.8" font-size="14" fill="#e2e2e6" text-anchor="middle" dominant-baseline="central">十月</text>
<path d="M1432.3 1222.4 v6" stroke="#d4d4d8" stroke-width="1.3"/>
<rect x="1381.1" y="1064.2" width="36" height="157.4" rx="9.5" ry="9.5" fill="#83b9ee"/>
<text x="1399.1" y="1050.0" font-size="16.8" fill="#e2e2e6" text-anchor="middle" dominant-baseline="central" letter-spacing="-.3">332</text>
<text x="1399.1" y="1238.8" font-size="14" fill="#e2e2e6" text-anchor="middle" dominant-baseline="central">十一月</text>
<rect x="1447.6" y="1162.8" width="36" height="58.8" rx="9.5" ry="9.5" fill="#83b9ee"/>
<text x="1465.6" y="1148.6" font-size="16.8" fill="#e2e2e6" text-anchor="middle" dominant-baseline="central" letter-spacing="-.3">125</text>
<text x="1465.6" y="1238.8" font-size="14" fill="#e2e2e6" text-anchor="middle" dominant-baseline="central">十二月</text>
</svg>
<div style="position:absolute;left:1548px;top:19.7px;width:614.6px;height:162.4px;background:rgba(22,26,42,.78);"></div>
<svg width="2300" height="1289" viewBox="0 0 2300 1289">
<path d="M1537.2 59.5 V20.9 L1549.1 8.6 H2178.5" stroke="#1b6f86" stroke-width="1.5" fill="none"/>
<path d="M1537 45.7 L1537 20.9 L1549.1 8.5 L1772 8.5 L1766 11 L1711.5 13.7 L1583.7 14.5 L1542 24.2 L1542 43 Z" fill="#0e4c66" stroke="#1b6f86" stroke-width=".8"/>
<path d="M1537.5 67.8 V183.5" stroke="#1b6f86" stroke-width="1.6" fill="none"/>
<path d="M2181.4 23 V136.7" stroke="#1b6f86" stroke-width="2" fill="none"/>
<path d="M2181.4 145.2 V181.1 L2170 198.2 H1541" stroke="#1b6f86" stroke-width="1.6" fill="none"/>
<path d="M2182.4 145.2 L2182.4 181.1 L2170 198.9 L1962 198.9 L1966 196 L2017.4 193.5 L2150 192.8 L2162.2 190.2 L2176.5 181.1 L2176.5 162.8 L2179.8 159.6 L2179.8 145.2 Z" fill="#0e4c66" stroke="#1b6f86" stroke-width=".8"/>
</svg>
<div class="t" style="left:1714.8px;top:31.1px;font-size:21.8px;line-height:21.8px;color:#f0f0f2;font-weight:normal;">全国</div>
<div class="t" style="left:1894.5px;top:26.0px;font-size:21.8px;line-height:21.8px;color:#f0f0f2;font-weight:normal;">北京</div>
<div class="t" style="left:2029.5px;top:27.8px;font-size:21.6px;line-height:21.6px;color:#f0f0f2;font-weight:normal;">北京市外</div>
<div class="t" style="left:1575.8px;top:73.5px;font-size:21.8px;line-height:21.8px;color:#f0f0f2;font-weight:normal;">合格率</div>
<div class="t" style="left:1558.2px;top:143.0px;font-size:21.8px;line-height:21.8px;color:#f0f0f2;font-weight:normal;">不合格率</div>
<div class="t" style="left:1702.5px;top:71.3px;font-size:28.6px;line-height:28.6px;color:#4fa5aa;font-weight:bold;">92.1%</div>
<div class="t" style="left:1875.5px;top:70.5px;font-size:28.6px;line-height:28.6px;color:#4fa5aa;font-weight:bold;">92.7%</div>
<div class="t" style="left:2033.2px;top:67.1px;font-size:28.6px;line-height:28.6px;color:#4fa5aa;font-weight:bold;">92.2%</div>
<div class="t" style="left:1709.3px;top:140.0px;font-size:28.6px;line-height:28.6px;color:#ebc45c;font-weight:bold;">7.9%</div>
<div class="t" style="left:1889.8px;top:139.3px;font-size:28.6px;line-height:28.6px;color:#ebc45c;font-weight:bold;">7.3%</div>
<div class="t" style="left:2047.5px;top:139.3px;font-size:28.6px;line-height:28.6px;color:#ebc45c;font-weight:bold;">7.8%</div>
<div class="t" style="left:1569.0px;top:209.2px;font-size:16.9px;line-height:16.9px;color:#f0f0f2;font-weight:normal;">鲜蛋抽检不合格批次</div>
<div class="t" style="left:1939.3px;top:209.2px;font-size:16.9px;line-height:16.9px;color:#f0f0f2;font-weight:normal;">蔬菜抽检不合格批次</div>
<div class="t" style="left:1575.1px;top:319.1px;font-size:16.9px;line-height:16.9px;color:#f0f0f2;font-weight:normal;">禽类抽检不合格批次</div>
<div class="t" style="left:1939.3px;top:316.1px;font-size:16.85px;line-height:16.85px;color:#f0f0f2;font-weight:normal;">水产品抽检不合格批次</div>
<div class="cbox" style="left:1573.6px;top:252px;width:207.5px;height:50.8px;"></div>
<div class="cbox" style="left:1939.1px;top:247.9px;width:206.9px;height:49.8px;"></div>
<div class="cbox" style="left:1577px;top:361.1px;width:206.1px;height:49.9px;"></div>
<div class="cbox" style="left:1943.5px;top:358.8px;width:206.2px;height:50.8px;"></div>
<div class="t" style="left:1579.0px;top:261.2px;font-size:30.5px;line-height:30.5px;color:#4059e0;font-weight:bold;letter-spacing:.8px;">231234</div>
<div class="t" style="left:1948.0px;top:257.1px;font-size:30.5px;line-height:30.5px;color:#4059e0;font-weight:bold;letter-spacing:.5px;">232</div>
<div class="t" style="left:1584.2px;top:370.6px;font-size:30.5px;line-height:30.5px;color:#4059e0;font-weight:bold;letter-spacing:.5px;">5343</div>
<div class="t" style="left:1954.2px;top:369.6px;font-size:30.5px;line-height:30.5px;color:#4059e0;font-weight:bold;letter-spacing:.8px;">74334</div>
<div class="t" style="left:1724.5px;transform:translateX(-50%);top:438.3px;font-size:19.3px;line-height:19.3px;color:#f4f4f4;font-weight:normal;">各省食品抽检量</div>
<div class="t" style="left:2093.7px;transform:translateX(-50%);top:444.8px;font-size:19.3px;line-height:19.3px;color:#f4f4f4;font-weight:normal;">各类食品抽检量</div>
<svg width="2300" height="1289" viewBox="0 0 2300 1289">
<clipPath id="c1611"><rect x="1561.5" y="450.5" width="400" height="831.0999999999999"/></clipPath><path d="M1653.8 470.5 V1241.6" stroke="#c9c9cf" stroke-width="1.2"/><path d="M1695.9 470.5 V1241.6" stroke="#c9c9cf" stroke-width="1.2"/><path d="M1738.0 470.5 V1241.6" stroke="#c9c9cf" stroke-width="1.2"/><path d="M1780.1 470.5 V1241.6" stroke="#c9c9cf" stroke-width="1.2"/><path d="M1822.2 470.5 V1241.6" stroke="#c9c9cf" stroke-width="1.2"/><path d="M1864.3 470.5 V1241.6" stroke="#c9c9cf" stroke-width="1.2"/><rect x="1611.7" y="473.5" width="252.0" height="18.8" fill="#14cdec"/><text x="1602.1" y="483.2" font-size="12.2" fill="#ececf0" text-anchor="end" dominant-baseline="central" clip-path="url(#c1611)">北京市</text><rect x="1611.7" y="498.4" width="209.3" height="18.8" fill="#14cdec"/><text x="1602.1" y="508.1" font-size="12.2" fill="#ececf0" text-anchor="end" dominant-baseline="central" clip-path="url(#c1611)">天津市</text><rect x="1611.7" y="523.3" width="184.0" height="18.8" fill="#14cdec"/><text x="1602.1" y="533.0" font-size="12.2" fill="#ececf0" text-anchor="end" dominant-baseline="central" clip-path="url(#c1611)">河北省</text><rect x="1611.7" y="548.2" width="183.7" height="18.8" fill="#14cdec"/><text x="1602.1" y="557.9" font-size="12.2" fill="#ececf0" text-anchor="end" dominant-baseline="central" clip-path="url(#c1611)">山西省</text><rect x="1611.7" y="573.0" width="182.0" height="18.8" fill="#14cdec"/><text x="1602.1" y="582.7" font-size="12.2" fill="#ececf0" text-anchor="end" dominant-baseline="central" clip-path="url(#c1611)">内蒙古</text><rect x="1611.7" y="597.9" width="177.5" height="18.8" fill="#14cdec"/><text x="1602.1" y="607.6" font-size="12.2" fill="#ececf0" text-anchor="end" dominant-baseline="central" clip-path="url(#c1611)">辽宁省</text><rect x="1611.7" y="622.8" width="165.2" height="18.8" fill="#14cdec"/><text x="1602.1" y="632.5" font-size="12.2" fill="#ececf0" text-anchor="end" dominant-baseline="central" clip-path="url(#c1611)">吉林省</text><rect x="1611.7" y="647.7" width="163.2" height="18.8" fill="#14cdec"/><text x="1602.1" y="657.4" font-size="12.2" fill="#ececf0" text-anchor="end" dominant-baseline="central" clip-path="url(#c1611)">黑龙江省</text><rect x="1611.7" y="672.5" width="156.0" height="18.8" fill="#14cdec"/><text x="1602.1" y="682.2" font-size="12.2" fill="#ececf0" text-anchor="end" dominant-baseline="central" clip-path="url(#c1611)">上海市</text><rect x="1611.7" y="697.4" width="142.4" height="18.8" fill="#14cdec"/><text x="1602.1" y="707.1" font-size="12.2" fill="#ececf0" text-anchor="end" dominant-baseline="central" clip-path="url(#c1611)">江苏省</text><rect x="1611.7" y="722.3" width="140.0" height="18.8" fill="#14cdec"/><text x="1602.1" y="732.0" font-size="12.2" fill="#ececf0" text-anchor="end" dominant-baseline="central" clip-path="url(#c1611)">浙江省</text><rect x="1611.7" y="747.2" width="135.2" height="18.8" fill="#14cdec"/><text x="1602.1" y="756.9" font-size="12.2" fill="#ececf0" text-anchor="end" dominant-baseline="central" clip-path="url(#c1611)">安徽省</text><rect x="1611.7" y="772.0" width="118.5" height="18.8" fill="#14cdec"/><text x="1602.1" y="781.7" font-size="12.2" fill="#ececf0" text-anchor="end" dominant-baseline="central" clip-path="url(#c1611)">福建省</text><rect x="1611.7" y="796.9" width="114.0" height="18.8" fill="#14cdec"/><text x="1602.1" y="806.6" font-size="12.2" fill="#ececf0" text-anchor="end" dominant-baseline="central" clip-path="url(#c1611)">江西省</text><rect x="1611.7" y="821.8" width="112.0" height="18.8" fill="#14cdec"/><text x="1602.1" y="831.5" font-size="12.2" fill="#ececf0" text-anchor="end" dominant-baseline="central" clip-path="url(#c1611)">山东省</text><rect x="1611.7" y="846.6" width="109.8" height="18.8" fill="#14cdec"/><text x="1602.1" y="856.3" font-size="12.2" fill="#ececf0" text-anchor="end" dominant-baseline="central" clip-path="url(#c1611)">河南省</text><rect x="1611.7" y="871.5" width="109.3" height="18.8" fill="#14cdec"/><text x="1602.1" y="881.2" font-size="12.2" fill="#ececf0" text-anchor="end" dominant-baseline="central" clip-path="url(#c1611)">湖北省</text><rect x="1611.7" y="896.4" width="96.0" height="18.8" fill="#14cdec"/><text x="1602.1" y="906.1" font-size="12.2" fill="#ececf0" text-anchor="end" dominant-baseline="central" clip-path="url(#c1611)">湖南省</text><rect x="1611.7" y="921.3" width="95.0" height="18.8" fill="#14cdec"/><text x="1602.1" y="931.0" font-size="12.2" fill="#ececf0" text-anchor="end" dominant-baseline="central" clip-path="url(#c1611)">广东省</text><rect x="1611.7" y="946.1" width="90.9" height="18.8" fill="#14cdec"/><text x="1602.1" y="955.8" font-size="12.2" fill="#ececf0" text-anchor="end" dominant-baseline="central" clip-path="url(#c1611)">广西</text><rect x="1611.7" y="971.0" width="86.8" height="18.8" fill="#14cdec"/><text x="1602.1" y="980.7" font-size="12.2" fill="#ececf0" text-anchor="end" dominant-baseline="central" clip-path="url(#c1611)">海南省</text><rect x="1611.7" y="995.9" width="86.1" height="18.8" fill="#14cdec"/><text x="1602.1" y="1005.6" font-size="12.2" fill="#ececf0" text-anchor="end" dominant-baseline="central" clip-path="url(#c1611)">重庆市</text><rect x="1611.7" y="1020.8" width="83.4" height="18.8" fill="#14cdec"/><text x="1602.1" y="1030.5" font-size="12.2" fill="#ececf0" text-anchor="end" dominant-baseline="central" clip-path="url(#c1611)">四川省</text><rect x="1611.7" y="1045.6" width="81.4" height="18.8" fill="#14cdec"/><text x="1602.1" y="1055.3" font-size="12.2" fill="#ececf0" text-anchor="end" dominant-baseline="central" clip-path="url(#c1611)">贵州省</text><rect x="1611.7" y="1070.5" width="79.7" height="18.8" fill="#14cdec"/><text x="1602.1" y="1080.2" font-size="12.2" fill="#ececf0" text-anchor="end" dominant-baseline="central" clip-path="url(#c1611)">云南省</text><rect x="1611.7" y="1095.4" width="76.6" height="18.8" fill="#14cdec"/><text x="1602.1" y="1105.1" font-size="12.2" fill="#ececf0" text-anchor="end" dominant-baseline="central" clip-path="url(#c1611)">西藏</text><rect x="1611.7" y="1120.3" width="71.8" height="18.8" fill="#14cdec"/><text x="1602.1" y="1130.0" font-size="12.2" fill="#ececf0" text-anchor="end" dominant-baseline="central" clip-path="url(#c1611)">陕西省</text><rect x="1611.7" y="1145.1" width="67.4" height="18.8" fill="#14cdec"/><text x="1602.1" y="1154.8" font-size="12.2" fill="#ececf0" text-anchor="end" dominant-baseline="central" clip-path="url(#c1611)">甘肃省</text><rect x="1611.7" y="1170.0" width="49.4" height="18.8" fill="#14cdec"/><text x="1602.1" y="1179.7" font-size="12.2" fill="#ececf0" text-anchor="end" dominant-baseline="central" clip-path="url(#c1611)">青海省</text><rect x="1611.7" y="1194.9" width="48.7" height="18.8" fill="#14cdec"/><text x="1602.1" y="1204.6" font-size="12.2" fill="#ececf0" text-anchor="end" dominant-baseline="central" clip-path="url(#c1611)">宁夏</text><rect x="1611.7" y="1219.8" width="28.3" height="18.8" fill="#14cdec"/><text x="1602.1" y="1229.5" font-size="12.2" fill="#ececf0" text-anchor="end" dominant-baseline="central" clip-path="url(#c1611)">新疆</text><path d="M1611.7 470.5 V1241.6" stroke="#c9c9cf" stroke-width="1.3"/><path d="M1606.2 470.5 H1611.7" stroke="#c9c9cf" stroke-width="1.2"/><path d="M1606.2 495.4 H1611.7" stroke="#c9c9cf" stroke-width="1.2"/><path d="M1606.2 520.2 H1611.7" stroke="#c9c9cf" stroke-width="1.2"/><path d="M1606.2 545.1 H1611.7" stroke="#c9c9cf" stroke-width="1.2"/><path d="M1606.2 570.0 H1611.7" stroke="#c9c9cf" stroke-width="1.2"/><path d="M1606.2 594.9 H1611.7" stroke="#c9c9cf" stroke-width="1.2"/><path d="M1606.2 619.7 H1611.7" stroke="#c9c9cf" stroke-width="1.2"/><path d="M1606.2 644.6 H1611.7" stroke="#c9c9cf" stroke-width="1.2"/><path d="M1606.2 669.5 H1611.7" stroke="#c9c9cf" stroke-width="1.2"/><path d="M1606.2 694.4 H1611.7" stroke="#c9c9cf" stroke-width="1.2"/><path d="M1606.2 719.2 H1611.7" stroke="#c9c9cf" stroke-width="1.2"/><path d="M1606.2 744.1 H1611.7" stroke="#c9c9cf" stroke-width="1.2"/><path d="M1606.2 769.0 H1611.7" stroke="#c9c9cf" stroke-width="1.2"/><path d="M1606.2 793.9 H1611.7" stroke="#c9c9cf" stroke-width="1.2"/><path d="M1606.2 818.7 H1611.7" stroke="#c9c9cf" stroke-width="1.2"/><path d="M1606.2 843.6 H1611.7" stroke="#c9c9cf" stroke-width="1.2"/><path d="M1606.2 868.5 H1611.7" stroke="#c9c9cf" stroke-width="1.2"/><path d="M1606.2 893.4 H1611.7" stroke="#c9c9cf" stroke-width="1.2"/><path d="M1606.2 918.2 H1611.7" stroke="#c9c9cf" stroke-width="1.2"/><path d="M1606.2 943.1 H1611.7" stroke="#c9c9cf" stroke-width="1.2"/><path d="M1606.2 968.0 H1611.7" stroke="#c9c9cf" stroke-width="1.2"/><path d="M1606.2 992.9 H1611.7" stroke="#c9c9cf" stroke-width="1.2"/><path d="M1606.2 1017.7 H1611.7" stroke="#c9c9cf" stroke-width="1.2"/><path d="M1606.2 1042.6 H1611.7" stroke="#c9c9cf" stroke-width="1.2"/><path d="M1606.2 1067.5 H1611.7" stroke="#c9c9cf" stroke-width="1.2"/><path d="M1606.2 1092.4 H1611.7" stroke="#c9c9cf" stroke-width="1.2"/><path d="M1606.2 1117.2 H1611.7" stroke="#c9c9cf" stroke-width="1.2"/><path d="M1606.2 1142.1 H1611.7" stroke="#c9c9cf" stroke-width="1.2"/><path d="M1606.2 1167.0 H1611.7" stroke="#c9c9cf" stroke-width="1.2"/><path d="M1606.2 1191.9 H1611.7" stroke="#c9c9cf" stroke-width="1.2"/><path d="M1606.2 1216.7 H1611.7" stroke="#c9c9cf" stroke-width="1.2"/><path d="M1606.2 1241.6 H1611.7" stroke="#c9c9cf" stroke-width="1.2"/><path d="M1611.7 1241.6 H1864.9" stroke="#c9c9cf" stroke-width="1.3"/><path d="M1611.7 1241.6 v5.5" stroke="#c9c9cf" stroke-width="1.2"/><text x="1611.7" y="1256.2" font-size="12.6" fill="#e2e2e6" text-anchor="middle" dominant-baseline="central">0</text><path d="M1653.8 1241.6 v5.5" stroke="#c9c9cf" stroke-width="1.2"/><text x="1653.8" y="1256.2" font-size="12.6" fill="#e2e2e6" text-anchor="middle" dominant-baseline="central">200</text><path d="M1695.9 1241.6 v5.5" stroke="#c9c9cf" stroke-width="1.2"/><text x="1695.9" y="1256.2" font-size="12.6" fill="#e2e2e6" text-anchor="middle" dominant-baseline="central">400</text><path d="M1738.0 1241.6 v5.5" stroke="#c9c9cf" stroke-width="1.2"/><text x="1738.0" y="1256.2" font-size="12.6" fill="#e2e2e6" text-anchor="middle" dominant-baseline="central">600</text><path d="M1780.1 1241.6 v5.5" stroke="#c9c9cf" stroke-width="1.2"/><text x="1780.1" y="1256.2" font-size="12.6" fill="#e2e2e6" text-anchor="middle" dominant-baseline="central">800</text><path d="M1822.2 1241.6 v5.5" stroke="#c9c9cf" stroke-width="1.2"/><text x="1822.2" y="1256.2" font-size="12.6" fill="#e2e2e6" text-anchor="middle" dominant-baseline="central">1,000</text><path d="M1864.3 1241.6 v5.5" stroke="#c9c9cf" stroke-width="1.2"/><text x="1864.3" y="1256.2" font-size="12.6" fill="#e2e2e6" text-anchor="middle" dominant-baseline="central">1,200</text>
<clipPath id="c1980"><rect x="1930" y="457.3" width="400" height="829.3"/></clipPath><path d="M2022.6 477.3 V1246.6" stroke="#c9c9cf" stroke-width="1.2"/><path d="M2064.7 477.3 V1246.6" stroke="#c9c9cf" stroke-width="1.2"/><path d="M2106.8 477.3 V1246.6" stroke="#c9c9cf" stroke-width="1.2"/><path d="M2148.9 477.3 V1246.6" stroke="#c9c9cf" stroke-width="1.2"/><path d="M2191.0 477.3 V1246.6" stroke="#c9c9cf" stroke-width="1.2"/><path d="M2233.1 477.3 V1246.6" stroke="#c9c9cf" stroke-width="1.2"/><rect x="1980.5" y="482.1" width="230.7" height="18.9" fill="#e3650f"/><text x="1970" y="491.8" font-size="12.2" fill="#ececf0" text-anchor="end" dominant-baseline="central" clip-path="url(#c1980)">蔬菜</text><rect x="1980.5" y="510.6" width="194.5" height="18.9" fill="#e3650f"/><text x="1970" y="520.3" font-size="12.2" fill="#ececf0" text-anchor="end" dominant-baseline="central" clip-path="url(#c1980)">糕点</text><rect x="1980.5" y="539.1" width="171.0" height="18.9" fill="#e3650f"/><text x="1970" y="548.8" font-size="12.2" fill="#ececf0" text-anchor="end" dominant-baseline="central" clip-path="url(#c1980)">酒类</text><rect x="1980.5" y="567.6" width="168.6" height="18.9" fill="#e3650f"/><text x="1970" y="577.3" font-size="12.2" fill="#ececf0" text-anchor="end" dominant-baseline="central" clip-path="url(#c1980)">水产品</text><rect x="1980.5" y="596.1" width="167.9" height="18.9" fill="#e3650f"/><text x="1970" y="605.8" font-size="12.2" fill="#ececf0" text-anchor="end" dominant-baseline="central" clip-path="url(#c1980)">饮料</text><rect x="1980.5" y="624.6" width="167.6" height="18.9" fill="#e3650f"/><text x="1970" y="634.3" font-size="12.2" fill="#ececf0" text-anchor="end" dominant-baseline="central" clip-path="url(#c1980)">淀粉制品</text><rect x="1980.5" y="653.1" width="164.5" height="18.9" fill="#e3650f"/><text x="1970" y="662.8" font-size="12.2" fill="#ececf0" text-anchor="end" dominant-baseline="central" clip-path="url(#c1980)">肉制品</text><rect x="1980.5" y="681.5" width="152.2" height="18.9" fill="#e3650f"/><text x="1970" y="691.3" font-size="12.2" fill="#ececf0" text-anchor="end" dominant-baseline="central" clip-path="url(#c1980)">蔬菜制品</text><rect x="1980.5" y="710.0" width="149.5" height="18.9" fill="#e3650f"/><text x="1970" y="719.8" font-size="12.2" fill="#ececf0" text-anchor="end" dominant-baseline="central" clip-path="url(#c1980)">调味品</text><rect x="1980.5" y="738.5" width="143.7" height="18.9" fill="#e3650f"/><text x="1970" y="748.3" font-size="12.2" fill="#ececf0" text-anchor="end" dominant-baseline="central" clip-path="url(#c1980)">畜禽肉</text><rect x="1980.5" y="767.0" width="137.2" height="18.9" fill="#e3650f"/><text x="1970" y="776.8" font-size="12.2" fill="#ececf0" text-anchor="end" dominant-baseline="central" clip-path="url(#c1980)">食用油</text><rect x="1980.5" y="795.5" width="130.4" height="18.9" fill="#e3650f"/><text x="1970" y="805.3" font-size="12.2" fill="#ececf0" text-anchor="end" dominant-baseline="central" clip-path="url(#c1980)">炒货食品</text><rect x="1980.5" y="824.0" width="124.2" height="18.9" fill="#e3650f"/><text x="1970" y="833.8" font-size="12.2" fill="#ececf0" text-anchor="end" dominant-baseline="central" clip-path="url(#c1980)">餐饮食品</text><rect x="1980.5" y="852.5" width="120.2" height="18.9" fill="#e3650f"/><text x="1970" y="862.2" font-size="12.2" fill="#ececf0" text-anchor="end" dominant-baseline="central" clip-path="url(#c1980)">鲜蛋</text><rect x="1980.5" y="881.0" width="116.0" height="18.9" fill="#e3650f"/><text x="1970" y="890.7" font-size="12.2" fill="#ececf0" text-anchor="end" dominant-baseline="central" clip-path="url(#c1980)">方便食品</text><rect x="1980.5" y="909.5" width="113.9" height="18.9" fill="#e3650f"/><text x="1970" y="919.2" font-size="12.2" fill="#ececf0" text-anchor="end" dominant-baseline="central" clip-path="url(#c1980)">水果类</text><rect x="1980.5" y="938.0" width="107.3" height="18.9" fill="#e3650f"/><text x="1970" y="947.7" font-size="12.2" fill="#ececf0" text-anchor="end" dominant-baseline="central" clip-path="url(#c1980)">粮食加工品</text><rect x="1980.5" y="966.5" width="103.8" height="18.9" fill="#e3650f"/><text x="1970" y="976.2" font-size="12.2" fill="#ececf0" text-anchor="end" dominant-baseline="central" clip-path="url(#c1980)">水果制品</text><rect x="1980.5" y="995.0" width="99.0" height="18.9" fill="#e3650f"/><text x="1970" y="1004.7" font-size="12.2" fill="#ececf0" text-anchor="end" dominant-baseline="central" clip-path="url(#c1980)">食糖</text><rect x="1980.5" y="1023.5" width="90.6" height="18.9" fill="#e3650f"/><text x="1970" y="1033.2" font-size="12.2" fill="#ececf0" text-anchor="end" dominant-baseline="central" clip-path="url(#c1980)">水产制品</text><rect x="1980.5" y="1051.9" width="88.9" height="18.9" fill="#e3650f"/><text x="1970" y="1061.7" font-size="12.2" fill="#ececf0" text-anchor="end" dominant-baseline="central" clip-path="url(#c1980)">薯类</text><rect x="1980.5" y="1080.4" width="87.5" height="18.9" fill="#e3650f"/><text x="1970" y="1090.2" font-size="12.2" fill="#ececf0" text-anchor="end" dominant-baseline="central" clip-path="url(#c1980)">蜂产品</text><rect x="1980.5" y="1108.9" width="72.5" height="18.9" fill="#e3650f"/><text x="1970" y="1118.7" font-size="12.2" fill="#ececf0" text-anchor="end" dominant-baseline="central" clip-path="url(#c1980)">冷冻饮品</text><rect x="1980.5" y="1137.4" width="68.6" height="18.9" fill="#e3650f"/><text x="1970" y="1147.2" font-size="12.2" fill="#ececf0" text-anchor="end" dominant-baseline="central" clip-path="url(#c1980)">糖果制品</text><rect x="1980.5" y="1165.9" width="66.6" height="18.9" fill="#e3650f"/><text x="1970" y="1175.7" font-size="12.2" fill="#ececf0" text-anchor="end" dominant-baseline="central" clip-path="url(#c1980)">豆制品</text><rect x="1980.5" y="1194.4" width="47.4" height="18.9" fill="#e3650f"/><text x="1970" y="1204.2" font-size="12.2" fill="#ececf0" text-anchor="end" dominant-baseline="central" clip-path="url(#c1980)">饼干</text><rect x="1980.5" y="1222.9" width="23.3" height="18.9" fill="#e3650f"/><text x="1970" y="1232.7" font-size="12.2" fill="#ececf0" text-anchor="end" dominant-baseline="central" clip-path="url(#c1980)">罐头</text><path d="M1980.5 477.3 V1246.6" stroke="#c9c9cf" stroke-width="1.3"/><path d="M1975.0 477.3 H1980.5" stroke="#c9c9cf" stroke-width="1.2"/><path d="M1975.0 505.8 H1980.5" stroke="#c9c9cf" stroke-width="1.2"/><path d="M1975.0 534.3 H1980.5" stroke="#c9c9cf" stroke-width="1.2"/><path d="M1975.0 562.8 H1980.5" stroke="#c9c9cf" stroke-width="1.2"/><path d="M1975.0 591.3 H1980.5" stroke="#c9c9cf" stroke-width="1.2"/><path d="M1975.0 619.8 H1980.5" stroke="#c9c9cf" stroke-width="1.2"/><path d="M1975.0 648.3 H1980.5" stroke="#c9c9cf" stroke-width="1.2"/><path d="M1975.0 676.7 H1980.5" stroke="#c9c9cf" stroke-width="1.2"/><path d="M1975.0 705.2 H1980.5" stroke="#c9c9cf" stroke-width="1.2"/><path d="M1975.0 733.7 H1980.5" stroke="#c9c9cf" stroke-width="1.2"/><path d="M1975.0 762.2 H1980.5" stroke="#c9c9cf" stroke-width="1.2"/><path d="M1975.0 790.7 H1980.5" stroke="#c9c9cf" stroke-width="1.2"/><path d="M1975.0 819.2 H1980.5" stroke="#c9c9cf" stroke-width="1.2"/><path d="M1975.0 847.7 H1980.5" stroke="#c9c9cf" stroke-width="1.2"/><path d="M1975.0 876.2 H1980.5" stroke="#c9c9cf" stroke-width="1.2"/><path d="M1975.0 904.7 H1980.5" stroke="#c9c9cf" stroke-width="1.2"/><path d="M1975.0 933.2 H1980.5" stroke="#c9c9cf" stroke-width="1.2"/><path d="M1975.0 961.7 H1980.5" stroke="#c9c9cf" stroke-width="1.2"/><path d="M1975.0 990.2 H1980.5" stroke="#c9c9cf" stroke-width="1.2"/><path d="M1975.0 1018.7 H1980.5" stroke="#c9c9cf" stroke-width="1.2"/><path d="M1975.0 1047.2 H1980.5" stroke="#c9c9cf" stroke-width="1.2"/><path d="M1975.0 1075.6 H1980.5" stroke="#c9c9cf" stroke-width="1.2"/><path d="M1975.0 1104.1 H1980.5" stroke="#c9c9cf" stroke-width="1.2"/><path d="M1975.0 1132.6 H1980.5" stroke="#c9c9cf" stroke-width="1.2"/><path d="M1975.0 1161.1 H1980.5" stroke="#c9c9cf" stroke-width="1.2"/><path d="M1975.0 1189.6 H1980.5" stroke="#c9c9cf" stroke-width="1.2"/><path d="M1975.0 1218.1 H1980.5" stroke="#c9c9cf" stroke-width="1.2"/><path d="M1975.0 1246.6 H1980.5" stroke="#c9c9cf" stroke-width="1.2"/><path d="M1980.5 1246.6 H2233.7" stroke="#c9c9cf" stroke-width="1.3"/><path d="M1980.5 1246.6 v5.5" stroke="#c9c9cf" stroke-width="1.2"/><text x="1980.5" y="1261.6" font-size="12.6" fill="#e2e2e6" text-anchor="middle" dominant-baseline="central">0</text><path d="M2022.6 1246.6 v5.5" stroke="#c9c9cf" stroke-width="1.2"/><text x="2022.6" y="1261.6" font-size="12.6" fill="#e2e2e6" text-anchor="middle" dominant-baseline="central">200</text><path d="M2064.7 1246.6 v5.5" stroke="#c9c9cf" stroke-width="1.2"/><text x="2064.7" y="1261.6" font-size="12.6" fill="#e2e2e6" text-anchor="middle" dominant-baseline="central">400</text><path d="M2106.8 1246.6 v5.5" stroke="#c9c9cf" stroke-width="1.2"/><text x="2106.8" y="1261.6" font-size="12.6" fill="#e2e2e6" text-anchor="middle" dominant-baseline="central">600</text><path d="M2148.9 1246.6 v5.5" stroke="#c9c9cf" stroke-width="1.2"/><text x="2148.9" y="1261.6" font-size="12.6" fill="#e2e2e6" text-anchor="middle" dominant-baseline="central">800</text><path d="M2191.0 1246.6 v5.5" stroke="#c9c9cf" stroke-width="1.2"/><text x="2191.0" y="1261.6" font-size="12.6" fill="#e2e2e6" text-anchor="middle" dominant-baseline="central">1,000</text><path d="M2233.1 1246.6 v5.5" stroke="#c9c9cf" stroke-width="1.2"/><text x="2233.1" y="1261.6" font-size="12.6" fill="#e2e2e6" text-anchor="middle" dominant-baseline="central">1,200</text>
</svg>
<div style="position:absolute;left:1px;top:1270px;width:29px;height:19px;border-radius:50%;background:radial-gradient(ellipse at 50% 40%,#f0484a,#d8151a 75%);"></div>
<div class="t" style="left:5.5px;top:1272.2px;font-size:12.5px;line-height:12.5px;color:#fff;font-weight:bold;font-style:italic;letter-spacing:-.5px;">php</div>
<div class="t" style="left:33.0px;top:1273.3px;font-size:15px;line-height:15px;color:#03050a;font-weight:bold;font-style:italic;">中文网</div>
</body></html>
